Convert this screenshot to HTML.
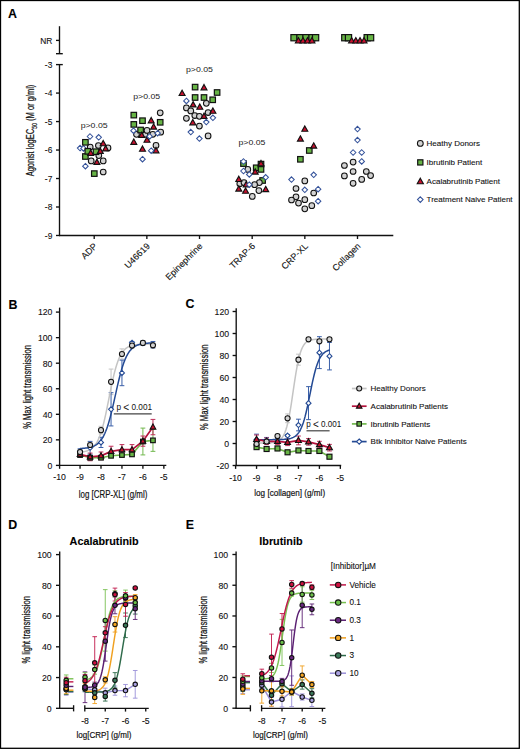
<!DOCTYPE html>
<html><head><meta charset="utf-8"><style>
html,body{margin:0;padding:0;background:#fff;}
svg{display:block;}
</style></head><body>
<svg width="520" height="749" viewBox="0 0 520 749" font-family='"Liberation Sans", sans-serif'><rect x="0" y="0" width="520" height="749" fill="#fff"/>
<text x="8.00" y="14.30" font-size="12.4" text-anchor="start" font-weight="bold" fill="#000" dominant-baseline="central" stroke="#000" stroke-width="0.1" >A</text>
<text x="8.60" y="304.70" font-size="12.4" text-anchor="start" font-weight="bold" fill="#000" dominant-baseline="central" stroke="#000" stroke-width="0.1" >B</text>
<text x="185.60" y="304.20" font-size="12.4" text-anchor="start" font-weight="bold" fill="#000" dominant-baseline="central" stroke="#000" stroke-width="0.1" >C</text>
<text x="8.20" y="524.50" font-size="12.4" text-anchor="start" font-weight="bold" fill="#000" dominant-baseline="central" stroke="#000" stroke-width="0.1" >D</text>
<text x="185.80" y="524.70" font-size="12.4" text-anchor="start" font-weight="bold" fill="#000" dominant-baseline="central" stroke="#000" stroke-width="0.1" >E</text>
<line x1="59.50" y1="26.20" x2="59.50" y2="53.70" stroke="#111" stroke-width="1.35" />
<line x1="56.00" y1="53.70" x2="62.80" y2="53.70" stroke="#111" stroke-width="1.35" />
<line x1="56.00" y1="40.40" x2="59.50" y2="40.40" stroke="#111" stroke-width="1.35" />
<line x1="56.00" y1="64.60" x2="62.80" y2="64.60" stroke="#111" stroke-width="1.35" />
<line x1="59.50" y1="64.60" x2="59.50" y2="236.10" stroke="#111" stroke-width="1.35" />
<line x1="56.00" y1="93.08" x2="59.50" y2="93.08" stroke="#111" stroke-width="1.35" />
<line x1="56.00" y1="121.56" x2="59.50" y2="121.56" stroke="#111" stroke-width="1.35" />
<line x1="56.00" y1="150.04" x2="59.50" y2="150.04" stroke="#111" stroke-width="1.35" />
<line x1="56.00" y1="178.52" x2="59.50" y2="178.52" stroke="#111" stroke-width="1.35" />
<line x1="56.00" y1="207.00" x2="59.50" y2="207.00" stroke="#111" stroke-width="1.35" />
<line x1="56.00" y1="235.48" x2="59.50" y2="235.48" stroke="#111" stroke-width="1.35" />
<text x="52.30" y="40.60" font-size="8.4" text-anchor="end" font-weight="normal" fill="#111" dominant-baseline="central" stroke="#111" stroke-width="0.1" >NR</text>
<text x="52.30" y="64.90" font-size="8.4" text-anchor="end" font-weight="normal" fill="#111" dominant-baseline="central" stroke="#111" stroke-width="0.1" >-3</text>
<text x="52.30" y="93.38" font-size="8.4" text-anchor="end" font-weight="normal" fill="#111" dominant-baseline="central" stroke="#111" stroke-width="0.1" >-4</text>
<text x="52.30" y="121.86" font-size="8.4" text-anchor="end" font-weight="normal" fill="#111" dominant-baseline="central" stroke="#111" stroke-width="0.1" >-5</text>
<text x="52.30" y="150.34" font-size="8.4" text-anchor="end" font-weight="normal" fill="#111" dominant-baseline="central" stroke="#111" stroke-width="0.1" >-6</text>
<text x="52.30" y="178.82" font-size="8.4" text-anchor="end" font-weight="normal" fill="#111" dominant-baseline="central" stroke="#111" stroke-width="0.1" >-7</text>
<text x="52.30" y="207.30" font-size="8.4" text-anchor="end" font-weight="normal" fill="#111" dominant-baseline="central" stroke="#111" stroke-width="0.1" >-8</text>
<text x="52.30" y="235.78" font-size="8.4" text-anchor="end" font-weight="normal" fill="#111" dominant-baseline="central" stroke="#111" stroke-width="0.1" >-9</text>
<line x1="58.90" y1="235.50" x2="393.30" y2="235.50" stroke="#111" stroke-width="1.35" />
<line x1="94.20" y1="235.50" x2="94.20" y2="239.00" stroke="#111" stroke-width="1.35" />
<text x="0" y="0" font-size="9.0" text-anchor="end" fill="#111" stroke="#111" stroke-width="0.12" transform="translate(97.80,246.70) rotate(-45)">ADP</text>
<line x1="146.86" y1="235.50" x2="146.86" y2="239.00" stroke="#111" stroke-width="1.35" />
<text x="0" y="0" font-size="9.0" text-anchor="end" fill="#111" stroke="#111" stroke-width="0.12" transform="translate(150.46,246.70) rotate(-45)">U46619</text>
<line x1="199.52" y1="235.50" x2="199.52" y2="239.00" stroke="#111" stroke-width="1.35" />
<text x="0" y="0" font-size="9.0" text-anchor="end" fill="#111" stroke="#111" stroke-width="0.12" transform="translate(203.12,246.70) rotate(-45)">Epinephrine</text>
<line x1="252.18" y1="235.50" x2="252.18" y2="239.00" stroke="#111" stroke-width="1.35" />
<text x="0" y="0" font-size="9.0" text-anchor="end" fill="#111" stroke="#111" stroke-width="0.12" transform="translate(255.78,246.70) rotate(-45)">TRAP-6</text>
<line x1="304.84" y1="235.50" x2="304.84" y2="239.00" stroke="#111" stroke-width="1.35" />
<text x="0" y="0" font-size="9.0" text-anchor="end" fill="#111" stroke="#111" stroke-width="0.12" transform="translate(308.44,246.70) rotate(-45)">CRP-XL</text>
<line x1="357.50" y1="235.50" x2="357.50" y2="239.00" stroke="#111" stroke-width="1.35" />
<text x="0" y="0" font-size="9.0" text-anchor="end" fill="#111" stroke="#111" stroke-width="0.12" transform="translate(361.10,246.70) rotate(-45)">Collagen</text>
<text x="0" y="0" font-size="10.6" text-anchor="middle" fill="#111" stroke="#111" stroke-width="0.22" transform="translate(34.4,130.5) rotate(-90)" textLength="91.6" lengthAdjust="spacingAndGlyphs">Agonist logEC<tspan font-size="7.4" dy="2.2">50</tspan><tspan dy="-2.2"> (M or g/ml)</tspan></text>
<text x="94.15" y="125.10" font-size="8.0" text-anchor="middle" font-weight="normal" fill="#1a1a1a" dominant-baseline="central" textLength="27" lengthAdjust="spacingAndGlyphs" >p&gt;0.05</text>
<text x="146.70" y="96.40" font-size="8.0" text-anchor="middle" font-weight="normal" fill="#1a1a1a" dominant-baseline="central" textLength="27" lengthAdjust="spacingAndGlyphs" >p&gt;0.05</text>
<text x="199.50" y="69.20" font-size="8.0" text-anchor="middle" font-weight="normal" fill="#1a1a1a" dominant-baseline="central" textLength="27" lengthAdjust="spacingAndGlyphs" >p&gt;0.05</text>
<text x="252.00" y="142.20" font-size="8.0" text-anchor="middle" font-weight="normal" fill="#1a1a1a" dominant-baseline="central" textLength="27" lengthAdjust="spacingAndGlyphs" >p&gt;0.05</text>
<polygon points="90.00,133.75 92.75,136.50 90.00,139.25 87.25,136.50" fill="#fff" stroke="#34529a" stroke-width="1.05"/>
<polygon points="98.70,134.55 101.45,137.30 98.70,140.05 95.95,137.30" fill="#fff" stroke="#34529a" stroke-width="1.05"/>
<polygon points="80.10,145.35 82.85,148.10 80.10,150.85 77.35,148.10" fill="#fff" stroke="#34529a" stroke-width="1.05"/>
<polygon points="83.50,145.65 86.25,148.40 83.50,151.15 80.75,148.40" fill="#fff" stroke="#34529a" stroke-width="1.05"/>
<polygon points="85.40,163.45 88.15,166.20 85.40,168.95 82.65,166.20" fill="#fff" stroke="#34529a" stroke-width="1.05"/>
<circle cx="90.20" cy="147.00" r="2.85" fill="#d2d2d2" stroke="#111" stroke-width="1.05"/>
<circle cx="98.40" cy="145.50" r="2.85" fill="#d2d2d2" stroke="#111" stroke-width="1.05"/>
<circle cx="108.00" cy="147.90" r="2.85" fill="#d2d2d2" stroke="#111" stroke-width="1.05"/>
<circle cx="98.80" cy="155.60" r="2.85" fill="#d2d2d2" stroke="#111" stroke-width="1.05"/>
<circle cx="91.20" cy="160.90" r="2.85" fill="#d2d2d2" stroke="#111" stroke-width="1.05"/>
<circle cx="103.20" cy="160.90" r="2.85" fill="#d2d2d2" stroke="#111" stroke-width="1.05"/>
<circle cx="103.20" cy="172.00" r="2.85" fill="#d2d2d2" stroke="#111" stroke-width="1.05"/>
<rect x="82.65" y="139.55" width="5.5" height="5.5" fill="#67b445" stroke="#111" stroke-width="1.2"/>
<rect x="82.65" y="153.75" width="5.5" height="5.5" fill="#67b445" stroke="#111" stroke-width="1.2"/>
<rect x="91.55" y="170.85" width="5.5" height="5.5" fill="#67b445" stroke="#111" stroke-width="1.2"/>
<rect x="85.05" y="148.55" width="5.5" height="5.5" fill="#67b445" stroke="#111" stroke-width="1.2"/>
<rect x="93.25" y="148.95" width="5.5" height="5.5" fill="#67b445" stroke="#111" stroke-width="1.2"/>
<polygon points="103.20,140.41 106.15,145.72 100.25,145.72" fill="#c8102e" stroke="#111" stroke-width="1.15" stroke-linejoin="miter"/>
<polygon points="105.60,145.61 108.55,150.92 102.65,150.92" fill="#c8102e" stroke="#111" stroke-width="1.15" stroke-linejoin="miter"/>
<polygon points="100.30,148.11 103.25,153.42 97.35,153.42" fill="#c8102e" stroke="#111" stroke-width="1.15" stroke-linejoin="miter"/>
<polygon points="90.70,150.01 93.65,155.32 87.75,155.32" fill="#c8102e" stroke="#111" stroke-width="1.15" stroke-linejoin="miter"/>
<polygon points="96.90,159.11 99.85,164.42 93.95,164.42" fill="#c8102e" stroke="#111" stroke-width="1.15" stroke-linejoin="miter"/>
<circle cx="160.20" cy="112.80" r="2.85" fill="#d2d2d2" stroke="#111" stroke-width="1.05"/>
<circle cx="136.50" cy="134.30" r="2.85" fill="#d2d2d2" stroke="#111" stroke-width="1.05"/>
<circle cx="144.90" cy="134.30" r="2.85" fill="#d2d2d2" stroke="#111" stroke-width="1.05"/>
<circle cx="152.80" cy="134.30" r="2.85" fill="#d2d2d2" stroke="#111" stroke-width="1.05"/>
<circle cx="160.70" cy="132.20" r="2.85" fill="#d2d2d2" stroke="#111" stroke-width="1.05"/>
<circle cx="147.00" cy="130.40" r="2.85" fill="#d2d2d2" stroke="#111" stroke-width="1.05"/>
<circle cx="156.00" cy="145.40" r="2.85" fill="#d2d2d2" stroke="#111" stroke-width="1.05"/>
<rect x="131.05" y="112.35" width="5.5" height="5.5" fill="#67b445" stroke="#111" stroke-width="1.2"/>
<rect x="139.75" y="117.95" width="5.5" height="5.5" fill="#67b445" stroke="#111" stroke-width="1.2"/>
<rect x="131.05" y="121.65" width="5.5" height="5.5" fill="#67b445" stroke="#111" stroke-width="1.2"/>
<rect x="157.45" y="119.55" width="5.5" height="5.5" fill="#67b445" stroke="#111" stroke-width="1.2"/>
<rect x="137.85" y="127.25" width="5.5" height="5.5" fill="#67b445" stroke="#111" stroke-width="1.2"/>
<polygon points="151.20,117.51 154.15,122.82 148.25,122.82" fill="#c8102e" stroke="#111" stroke-width="1.15" stroke-linejoin="miter"/>
<polygon points="153.60,123.81 156.55,129.12 150.65,129.12" fill="#c8102e" stroke="#111" stroke-width="1.15" stroke-linejoin="miter"/>
<polygon points="141.70,132.11 144.65,137.42 138.75,137.42" fill="#c8102e" stroke="#111" stroke-width="1.15" stroke-linejoin="miter"/>
<polygon points="147.00,136.91 149.95,142.22 144.05,142.22" fill="#c8102e" stroke="#111" stroke-width="1.15" stroke-linejoin="miter"/>
<polygon points="133.80,139.01 136.75,144.32 130.85,144.32" fill="#c8102e" stroke="#111" stroke-width="1.15" stroke-linejoin="miter"/>
<polygon points="142.50,145.91 145.45,151.22 139.55,151.22" fill="#c8102e" stroke="#111" stroke-width="1.15" stroke-linejoin="miter"/>
<polygon points="156.00,147.51 158.95,152.82 153.05,152.82" fill="#c8102e" stroke="#111" stroke-width="1.15" stroke-linejoin="miter"/>
<polygon points="133.50,127.95 136.25,130.70 133.50,133.45 130.75,130.70" fill="#fff" stroke="#34529a" stroke-width="1.05"/>
<polygon points="149.60,133.65 152.35,136.40 149.60,139.15 146.85,136.40" fill="#fff" stroke="#34529a" stroke-width="1.05"/>
<polygon points="157.60,130.45 160.35,133.20 157.60,135.95 154.85,133.20" fill="#fff" stroke="#34529a" stroke-width="1.05"/>
<polygon points="151.20,147.95 153.95,150.70 151.20,153.45 148.45,150.70" fill="#fff" stroke="#34529a" stroke-width="1.05"/>
<polygon points="142.50,156.45 145.25,159.20 142.50,161.95 139.75,159.20" fill="#fff" stroke="#34529a" stroke-width="1.05"/>
<rect x="192.35" y="84.35" width="5.5" height="5.5" fill="#67b445" stroke="#111" stroke-width="1.2"/>
<rect x="214.35" y="89.75" width="5.5" height="5.5" fill="#67b445" stroke="#111" stroke-width="1.2"/>
<rect x="192.35" y="94.75" width="5.5" height="5.5" fill="#67b445" stroke="#111" stroke-width="1.2"/>
<rect x="201.25" y="94.75" width="5.5" height="5.5" fill="#67b445" stroke="#111" stroke-width="1.2"/>
<rect x="209.95" y="97.05" width="5.5" height="5.5" fill="#67b445" stroke="#111" stroke-width="1.2"/>
<circle cx="206.30" cy="103.30" r="2.85" fill="#d2d2d2" stroke="#111" stroke-width="1.05"/>
<circle cx="186.40" cy="107.90" r="2.85" fill="#d2d2d2" stroke="#111" stroke-width="1.05"/>
<circle cx="190.80" cy="110.90" r="2.85" fill="#d2d2d2" stroke="#111" stroke-width="1.05"/>
<circle cx="208.10" cy="112.50" r="2.85" fill="#d2d2d2" stroke="#111" stroke-width="1.05"/>
<circle cx="194.80" cy="115.50" r="2.85" fill="#d2d2d2" stroke="#111" stroke-width="1.05"/>
<circle cx="199.40" cy="116.30" r="2.85" fill="#d2d2d2" stroke="#111" stroke-width="1.05"/>
<circle cx="186.40" cy="118.30" r="2.85" fill="#d2d2d2" stroke="#111" stroke-width="1.05"/>
<circle cx="199.40" cy="126.10" r="2.85" fill="#d2d2d2" stroke="#111" stroke-width="1.05"/>
<circle cx="208.10" cy="135.90" r="2.85" fill="#d2d2d2" stroke="#111" stroke-width="1.05"/>
<polygon points="204.00,84.51 206.95,89.82 201.05,89.82" fill="#c8102e" stroke="#111" stroke-width="1.15" stroke-linejoin="miter"/>
<polygon points="182.10,90.21 185.05,95.52 179.15,95.52" fill="#c8102e" stroke="#111" stroke-width="1.15" stroke-linejoin="miter"/>
<polygon points="193.10,101.61 196.05,106.92 190.15,106.92" fill="#c8102e" stroke="#111" stroke-width="1.15" stroke-linejoin="miter"/>
<polygon points="199.80,103.91 202.75,109.22 196.85,109.22" fill="#c8102e" stroke="#111" stroke-width="1.15" stroke-linejoin="miter"/>
<polygon points="212.90,107.91 215.85,113.22 209.95,113.22" fill="#c8102e" stroke="#111" stroke-width="1.15" stroke-linejoin="miter"/>
<polygon points="204.00,113.11 206.95,118.42 201.05,118.42" fill="#c8102e" stroke="#111" stroke-width="1.15" stroke-linejoin="miter"/>
<polygon points="192.80,119.51 195.75,124.82 189.85,124.82" fill="#c8102e" stroke="#111" stroke-width="1.15" stroke-linejoin="miter"/>
<polygon points="186.40,98.15 189.15,100.90 186.40,103.65 183.65,100.90" fill="#fff" stroke="#34529a" stroke-width="1.05"/>
<polygon points="212.90,115.05 215.65,117.80 212.90,120.55 210.15,117.80" fill="#fff" stroke="#34529a" stroke-width="1.05"/>
<polygon points="206.30,119.35 209.05,122.10 206.30,124.85 203.55,122.10" fill="#fff" stroke="#34529a" stroke-width="1.05"/>
<polygon points="190.80,129.35 193.55,132.10 190.80,134.85 188.05,132.10" fill="#fff" stroke="#34529a" stroke-width="1.05"/>
<polygon points="199.40,135.85 202.15,138.60 199.40,141.35 196.65,138.60" fill="#fff" stroke="#34529a" stroke-width="1.05"/>
<rect x="240.75" y="160.85" width="5.5" height="5.5" fill="#67b445" stroke="#111" stroke-width="1.2"/>
<rect x="253.45" y="165.05" width="5.5" height="5.5" fill="#67b445" stroke="#111" stroke-width="1.2"/>
<rect x="258.25" y="161.35" width="5.5" height="5.5" fill="#67b445" stroke="#111" stroke-width="1.2"/>
<rect x="258.25" y="166.65" width="5.5" height="5.5" fill="#67b445" stroke="#111" stroke-width="1.2"/>
<rect x="259.85" y="177.75" width="5.5" height="5.5" fill="#67b445" stroke="#111" stroke-width="1.2"/>
<circle cx="247.80" cy="169.40" r="2.85" fill="#d2d2d2" stroke="#111" stroke-width="1.05"/>
<circle cx="239.80" cy="183.70" r="2.85" fill="#d2d2d2" stroke="#111" stroke-width="1.05"/>
<circle cx="244.00" cy="182.60" r="2.85" fill="#d2d2d2" stroke="#111" stroke-width="1.05"/>
<circle cx="259.40" cy="182.60" r="2.85" fill="#d2d2d2" stroke="#111" stroke-width="1.05"/>
<circle cx="254.60" cy="184.70" r="2.85" fill="#d2d2d2" stroke="#111" stroke-width="1.05"/>
<circle cx="258.90" cy="190.60" r="2.85" fill="#d2d2d2" stroke="#111" stroke-width="1.05"/>
<circle cx="252.30" cy="196.40" r="2.85" fill="#d2d2d2" stroke="#111" stroke-width="1.05"/>
<polygon points="261.00,160.41 263.95,165.72 258.05,165.72" fill="#c8102e" stroke="#111" stroke-width="1.15" stroke-linejoin="miter"/>
<polygon points="255.20,168.81 258.15,174.12 252.25,174.12" fill="#c8102e" stroke="#111" stroke-width="1.15" stroke-linejoin="miter"/>
<polygon points="238.80,176.21 241.75,181.52 235.85,181.52" fill="#c8102e" stroke="#111" stroke-width="1.15" stroke-linejoin="miter"/>
<polygon points="246.20,181.51 249.15,186.82 243.25,186.82" fill="#c8102e" stroke="#111" stroke-width="1.15" stroke-linejoin="miter"/>
<polygon points="238.80,185.81 241.75,191.12 235.85,191.12" fill="#c8102e" stroke="#111" stroke-width="1.15" stroke-linejoin="miter"/>
<polygon points="245.60,187.91 248.55,193.22 242.65,193.22" fill="#c8102e" stroke="#111" stroke-width="1.15" stroke-linejoin="miter"/>
<polygon points="265.70,186.31 268.65,191.62 262.75,191.62" fill="#c8102e" stroke="#111" stroke-width="1.15" stroke-linejoin="miter"/>
<polygon points="243.50,158.75 246.25,161.50 243.50,164.25 240.75,161.50" fill="#fff" stroke="#34529a" stroke-width="1.05"/>
<polygon points="243.50,168.25 246.25,171.00 243.50,173.75 240.75,171.00" fill="#fff" stroke="#34529a" stroke-width="1.05"/>
<polygon points="249.30,171.65 252.05,174.40 249.30,177.15 246.55,174.40" fill="#fff" stroke="#34529a" stroke-width="1.05"/>
<polygon points="265.70,174.55 268.45,177.30 265.70,180.05 262.95,177.30" fill="#fff" stroke="#34529a" stroke-width="1.05"/>
<polygon points="249.30,181.95 252.05,184.70 249.30,187.45 246.55,184.70" fill="#fff" stroke="#34529a" stroke-width="1.05"/>
<circle cx="304.80" cy="180.90" r="2.85" fill="#d2d2d2" stroke="#111" stroke-width="1.05"/>
<circle cx="296.00" cy="188.50" r="2.85" fill="#d2d2d2" stroke="#111" stroke-width="1.05"/>
<circle cx="313.70" cy="193.00" r="2.85" fill="#d2d2d2" stroke="#111" stroke-width="1.05"/>
<circle cx="296.00" cy="196.80" r="2.85" fill="#d2d2d2" stroke="#111" stroke-width="1.05"/>
<circle cx="291.50" cy="200.00" r="2.85" fill="#d2d2d2" stroke="#111" stroke-width="1.05"/>
<circle cx="304.80" cy="199.70" r="2.85" fill="#d2d2d2" stroke="#111" stroke-width="1.05"/>
<circle cx="298.50" cy="203.10" r="2.85" fill="#d2d2d2" stroke="#111" stroke-width="1.05"/>
<circle cx="311.80" cy="205.70" r="2.85" fill="#d2d2d2" stroke="#111" stroke-width="1.05"/>
<circle cx="304.80" cy="208.80" r="2.85" fill="#d2d2d2" stroke="#111" stroke-width="1.05"/>
<polygon points="313.70,172.05 316.45,174.80 313.70,177.55 310.95,174.80" fill="#fff" stroke="#34529a" stroke-width="1.05"/>
<polygon points="291.50,176.85 294.25,179.60 291.50,182.35 288.75,179.60" fill="#fff" stroke="#34529a" stroke-width="1.05"/>
<polygon points="304.80,187.05 307.55,189.80 304.80,192.55 302.05,189.80" fill="#fff" stroke="#34529a" stroke-width="1.05"/>
<polygon points="318.10,186.45 320.85,189.20 318.10,191.95 315.35,189.20" fill="#fff" stroke="#34529a" stroke-width="1.05"/>
<polygon points="318.10,198.45 320.85,201.20 318.10,203.95 315.35,201.20" fill="#fff" stroke="#34529a" stroke-width="1.05"/>
<rect x="306.55" y="147.75" width="5.5" height="5.5" fill="#67b445" stroke="#111" stroke-width="1.2"/>
<rect x="297.65" y="156.55" width="5.5" height="5.5" fill="#67b445" stroke="#111" stroke-width="1.2"/>
<polygon points="304.80,125.91 307.75,131.22 301.85,131.22" fill="#c8102e" stroke="#111" stroke-width="1.15" stroke-linejoin="miter"/>
<polygon points="300.40,135.81 303.35,141.12 297.45,141.12" fill="#c8102e" stroke="#111" stroke-width="1.15" stroke-linejoin="miter"/>
<polygon points="313.70,142.81 316.65,148.12 310.75,148.12" fill="#c8102e" stroke="#111" stroke-width="1.15" stroke-linejoin="miter"/>
<circle cx="353.10" cy="162.10" r="2.85" fill="#d2d2d2" stroke="#111" stroke-width="1.05"/>
<circle cx="344.40" cy="165.50" r="2.85" fill="#d2d2d2" stroke="#111" stroke-width="1.05"/>
<circle cx="353.10" cy="171.50" r="2.85" fill="#d2d2d2" stroke="#111" stroke-width="1.05"/>
<circle cx="366.30" cy="171.50" r="2.85" fill="#d2d2d2" stroke="#111" stroke-width="1.05"/>
<circle cx="370.60" cy="175.60" r="2.85" fill="#d2d2d2" stroke="#111" stroke-width="1.05"/>
<circle cx="344.40" cy="175.90" r="2.85" fill="#d2d2d2" stroke="#111" stroke-width="1.05"/>
<circle cx="361.70" cy="179.40" r="2.85" fill="#d2d2d2" stroke="#111" stroke-width="1.05"/>
<circle cx="353.10" cy="183.30" r="2.85" fill="#d2d2d2" stroke="#111" stroke-width="1.05"/>
<polygon points="357.50,126.35 360.25,129.10 357.50,131.85 354.75,129.10" fill="#fff" stroke="#34529a" stroke-width="1.05"/>
<polygon points="357.50,137.35 360.25,140.10 357.50,142.85 354.75,140.10" fill="#fff" stroke="#34529a" stroke-width="1.05"/>
<polygon points="353.10,149.75 355.85,152.50 353.10,155.25 350.35,152.50" fill="#fff" stroke="#34529a" stroke-width="1.05"/>
<polygon points="361.70,149.75 364.45,152.50 361.70,155.25 358.95,152.50" fill="#fff" stroke="#34529a" stroke-width="1.05"/>
<polygon points="361.70,158.65 364.45,161.40 361.70,164.15 358.95,161.40" fill="#fff" stroke="#34529a" stroke-width="1.05"/>
<rect x="290.90" y="34.60" width="6.2" height="6.2" fill="#67b445" stroke="#111" stroke-width="1.2"/>
<rect x="296.90" y="34.60" width="6.2" height="6.2" fill="#67b445" stroke="#111" stroke-width="1.2"/>
<rect x="302.90" y="34.60" width="6.2" height="6.2" fill="#67b445" stroke="#111" stroke-width="1.2"/>
<rect x="308.90" y="34.60" width="6.2" height="6.2" fill="#67b445" stroke="#111" stroke-width="1.2"/>
<rect x="312.50" y="34.60" width="6.2" height="6.2" fill="#67b445" stroke="#111" stroke-width="1.2"/>
<polygon points="298.40,37.56 301.40,42.96 295.40,42.96" fill="#c8102e" stroke="#111" stroke-width="1.15" stroke-linejoin="miter"/>
<polygon points="303.00,37.56 306.00,42.96 300.00,42.96" fill="#c8102e" stroke="#111" stroke-width="1.15" stroke-linejoin="miter"/>
<polygon points="307.50,37.56 310.50,42.96 304.50,42.96" fill="#c8102e" stroke="#111" stroke-width="1.15" stroke-linejoin="miter"/>
<polygon points="311.90,37.56 314.90,42.96 308.90,42.96" fill="#c8102e" stroke="#111" stroke-width="1.15" stroke-linejoin="miter"/>
<rect x="341.70" y="34.60" width="6.2" height="6.2" fill="#67b445" stroke="#111" stroke-width="1.2"/>
<rect x="345.40" y="34.60" width="6.2" height="6.2" fill="#67b445" stroke="#111" stroke-width="1.2"/>
<rect x="364.10" y="34.60" width="6.2" height="6.2" fill="#67b445" stroke="#111" stroke-width="1.2"/>
<rect x="367.50" y="34.60" width="6.2" height="6.2" fill="#67b445" stroke="#111" stroke-width="1.2"/>
<polygon points="351.60,37.56 354.60,42.96 348.60,42.96" fill="#c8102e" stroke="#111" stroke-width="1.15" stroke-linejoin="miter"/>
<polygon points="355.80,37.56 358.80,42.96 352.80,42.96" fill="#c8102e" stroke="#111" stroke-width="1.15" stroke-linejoin="miter"/>
<polygon points="360.00,37.56 363.00,42.96 357.00,42.96" fill="#c8102e" stroke="#111" stroke-width="1.15" stroke-linejoin="miter"/>
<polygon points="364.00,37.56 367.00,42.96 361.00,42.96" fill="#c8102e" stroke="#111" stroke-width="1.15" stroke-linejoin="miter"/>
<circle cx="420.30" cy="143.40" r="2.9" fill="#d2d2d2" stroke="#111" stroke-width="1.05"/>
<rect x="417.70" y="159.80" width="5.2" height="5.2" fill="#67b445" stroke="#111" stroke-width="1.2"/>
<polygon points="420.30,178.21 423.35,183.70 417.25,183.70" fill="#c8102e" stroke="#111" stroke-width="1.15" stroke-linejoin="miter"/>
<polygon points="420.30,196.80 423.10,199.60 420.30,202.40 417.50,199.60" fill="#fff" stroke="#34529a" stroke-width="1.05"/>
<text x="426.60" y="143.70" font-size="8.0" text-anchor="start" font-weight="normal" fill="#111" dominant-baseline="central" stroke="#111" stroke-width="0.1" >Heathy Donors</text>
<text x="426.60" y="162.60" font-size="8.0" text-anchor="start" font-weight="normal" fill="#111" dominant-baseline="central" stroke="#111" stroke-width="0.1" >Ibrutinib Patient</text>
<text x="426.60" y="181.30" font-size="8.0" text-anchor="start" font-weight="normal" fill="#111" dominant-baseline="central" stroke="#111" stroke-width="0.1" >Acalabrutinib Patient</text>
<text x="426.60" y="199.70" font-size="8.0" text-anchor="start" font-weight="normal" fill="#111" dominant-baseline="central" stroke="#111" stroke-width="0.1" >Treatment Naive Patient</text>
<line x1="59.60" y1="307.60" x2="59.60" y2="466.00" stroke="#111" stroke-width="1.35" />
<line x1="55.90" y1="465.40" x2="59.60" y2="465.40" stroke="#111" stroke-width="1.35" />
<text x="52.40" y="465.70" font-size="8.7" text-anchor="end" font-weight="normal" fill="#111" dominant-baseline="central" stroke="#111" stroke-width="0.1" >0</text>
<line x1="55.90" y1="439.85" x2="59.60" y2="439.85" stroke="#111" stroke-width="1.35" />
<text x="52.40" y="440.15" font-size="8.7" text-anchor="end" font-weight="normal" fill="#111" dominant-baseline="central" stroke="#111" stroke-width="0.1" >20</text>
<line x1="55.90" y1="414.30" x2="59.60" y2="414.30" stroke="#111" stroke-width="1.35" />
<text x="52.40" y="414.60" font-size="8.7" text-anchor="end" font-weight="normal" fill="#111" dominant-baseline="central" stroke="#111" stroke-width="0.1" >40</text>
<line x1="55.90" y1="388.75" x2="59.60" y2="388.75" stroke="#111" stroke-width="1.35" />
<text x="52.40" y="389.05" font-size="8.7" text-anchor="end" font-weight="normal" fill="#111" dominant-baseline="central" stroke="#111" stroke-width="0.1" >60</text>
<line x1="55.90" y1="363.20" x2="59.60" y2="363.20" stroke="#111" stroke-width="1.35" />
<text x="52.40" y="363.50" font-size="8.7" text-anchor="end" font-weight="normal" fill="#111" dominant-baseline="central" stroke="#111" stroke-width="0.1" >80</text>
<line x1="55.90" y1="337.65" x2="59.60" y2="337.65" stroke="#111" stroke-width="1.35" />
<text x="52.40" y="337.95" font-size="8.7" text-anchor="end" font-weight="normal" fill="#111" dominant-baseline="central" stroke="#111" stroke-width="0.1" >100</text>
<line x1="55.90" y1="312.10" x2="59.60" y2="312.10" stroke="#111" stroke-width="1.35" />
<text x="52.40" y="312.40" font-size="8.7" text-anchor="end" font-weight="normal" fill="#111" dominant-baseline="central" stroke="#111" stroke-width="0.1" >120</text>
<line x1="59.00" y1="465.40" x2="166.30" y2="465.40" stroke="#111" stroke-width="1.35" />
<line x1="59.60" y1="465.40" x2="59.60" y2="468.80" stroke="#111" stroke-width="1.35" />
<text x="59.60" y="477.40" font-size="8.7" text-anchor="middle" font-weight="normal" fill="#111" dominant-baseline="central" stroke="#111" stroke-width="0.1" >-10</text>
<line x1="80.05" y1="465.40" x2="80.05" y2="468.80" stroke="#111" stroke-width="1.35" />
<text x="80.05" y="477.40" font-size="8.7" text-anchor="middle" font-weight="normal" fill="#111" dominant-baseline="central" stroke="#111" stroke-width="0.1" >-9</text>
<line x1="101.00" y1="465.40" x2="101.00" y2="468.80" stroke="#111" stroke-width="1.35" />
<text x="101.00" y="477.40" font-size="8.7" text-anchor="middle" font-weight="normal" fill="#111" dominant-baseline="central" stroke="#111" stroke-width="0.1" >-8</text>
<line x1="121.95" y1="465.40" x2="121.95" y2="468.80" stroke="#111" stroke-width="1.35" />
<text x="121.95" y="477.40" font-size="8.7" text-anchor="middle" font-weight="normal" fill="#111" dominant-baseline="central" stroke="#111" stroke-width="0.1" >-7</text>
<line x1="142.90" y1="465.40" x2="142.90" y2="468.80" stroke="#111" stroke-width="1.35" />
<text x="142.90" y="477.40" font-size="8.7" text-anchor="middle" font-weight="normal" fill="#111" dominant-baseline="central" stroke="#111" stroke-width="0.1" >-6</text>
<line x1="163.85" y1="465.40" x2="163.85" y2="468.80" stroke="#111" stroke-width="1.35" />
<text x="163.85" y="477.40" font-size="8.7" text-anchor="middle" font-weight="normal" fill="#111" dominant-baseline="central" stroke="#111" stroke-width="0.1" >-5</text>
<text x="0" y="0" font-size="10.6" text-anchor="middle" fill="#111" stroke="#111" stroke-width="0.25" transform="translate(30.8,387.0) rotate(-90)" textLength="83.7" lengthAdjust="spacingAndGlyphs">% Max light transmission</text>
<text x="113.10" y="498.00" font-size="10.0" text-anchor="middle" font-weight="normal" fill="#111" dominant-baseline="auto" textLength="68.5" lengthAdjust="spacingAndGlyphs" stroke="#111" stroke-width="0.2" >log [CRP-XL] (g/ml)</text>
<line x1="80.05" y1="449.43" x2="80.05" y2="454.54" stroke="#c4c4c4" stroke-width="1.0" />
<line x1="77.65" y1="449.43" x2="82.45" y2="449.43" stroke="#c4c4c4" stroke-width="1.0" />
<line x1="77.65" y1="454.54" x2="82.45" y2="454.54" stroke="#c4c4c4" stroke-width="1.0" />
<line x1="90.11" y1="442.40" x2="90.11" y2="447.51" stroke="#c4c4c4" stroke-width="1.0" />
<line x1="87.71" y1="442.40" x2="92.51" y2="442.40" stroke="#c4c4c4" stroke-width="1.0" />
<line x1="87.71" y1="447.51" x2="92.51" y2="447.51" stroke="#c4c4c4" stroke-width="1.0" />
<line x1="101.00" y1="426.31" x2="101.00" y2="433.97" stroke="#c4c4c4" stroke-width="1.0" />
<line x1="98.60" y1="426.31" x2="103.40" y2="426.31" stroke="#c4c4c4" stroke-width="1.0" />
<line x1="98.60" y1="433.97" x2="103.40" y2="433.97" stroke="#c4c4c4" stroke-width="1.0" />
<line x1="111.06" y1="369.08" x2="111.06" y2="394.63" stroke="#c4c4c4" stroke-width="1.0" />
<line x1="108.66" y1="369.08" x2="113.46" y2="369.08" stroke="#c4c4c4" stroke-width="1.0" />
<line x1="108.66" y1="394.63" x2="113.46" y2="394.63" stroke="#c4c4c4" stroke-width="1.0" />
<line x1="121.95" y1="348.89" x2="121.95" y2="359.11" stroke="#c4c4c4" stroke-width="1.0" />
<line x1="119.55" y1="348.89" x2="124.35" y2="348.89" stroke="#c4c4c4" stroke-width="1.0" />
<line x1="119.55" y1="359.11" x2="124.35" y2="359.11" stroke="#c4c4c4" stroke-width="1.0" />
<line x1="132.01" y1="343.02" x2="132.01" y2="348.13" stroke="#c4c4c4" stroke-width="1.0" />
<line x1="129.61" y1="343.02" x2="134.41" y2="343.02" stroke="#c4c4c4" stroke-width="1.0" />
<line x1="129.61" y1="348.13" x2="134.41" y2="348.13" stroke="#c4c4c4" stroke-width="1.0" />
<line x1="142.90" y1="340.97" x2="142.90" y2="344.80" stroke="#c4c4c4" stroke-width="1.0" />
<line x1="140.50" y1="340.97" x2="145.30" y2="340.97" stroke="#c4c4c4" stroke-width="1.0" />
<line x1="140.50" y1="344.80" x2="145.30" y2="344.80" stroke="#c4c4c4" stroke-width="1.0" />
<line x1="152.96" y1="342.76" x2="152.96" y2="347.87" stroke="#c4c4c4" stroke-width="1.0" />
<line x1="150.56" y1="342.76" x2="155.36" y2="342.76" stroke="#c4c4c4" stroke-width="1.0" />
<line x1="150.56" y1="347.87" x2="155.36" y2="347.87" stroke="#c4c4c4" stroke-width="1.0" />
<line x1="80.05" y1="448.79" x2="80.05" y2="453.90" stroke="#3a5fa8" stroke-width="1.0" />
<line x1="77.65" y1="448.79" x2="82.45" y2="448.79" stroke="#3a5fa8" stroke-width="1.0" />
<line x1="77.65" y1="453.90" x2="82.45" y2="453.90" stroke="#3a5fa8" stroke-width="1.0" />
<line x1="90.11" y1="441.38" x2="90.11" y2="454.16" stroke="#3a5fa8" stroke-width="1.0" />
<line x1="87.71" y1="441.38" x2="92.51" y2="441.38" stroke="#3a5fa8" stroke-width="1.0" />
<line x1="87.71" y1="454.16" x2="92.51" y2="454.16" stroke="#3a5fa8" stroke-width="1.0" />
<line x1="101.00" y1="437.29" x2="101.00" y2="447.51" stroke="#3a5fa8" stroke-width="1.0" />
<line x1="98.60" y1="437.29" x2="103.40" y2="437.29" stroke="#3a5fa8" stroke-width="1.0" />
<line x1="98.60" y1="447.51" x2="103.40" y2="447.51" stroke="#3a5fa8" stroke-width="1.0" />
<line x1="111.06" y1="392.71" x2="111.06" y2="425.93" stroke="#3a5fa8" stroke-width="1.0" />
<line x1="108.66" y1="392.71" x2="113.46" y2="392.71" stroke="#3a5fa8" stroke-width="1.0" />
<line x1="108.66" y1="425.93" x2="113.46" y2="425.93" stroke="#3a5fa8" stroke-width="1.0" />
<line x1="121.95" y1="360.13" x2="121.95" y2="385.68" stroke="#3a5fa8" stroke-width="1.0" />
<line x1="119.55" y1="360.13" x2="124.35" y2="360.13" stroke="#3a5fa8" stroke-width="1.0" />
<line x1="119.55" y1="385.68" x2="124.35" y2="385.68" stroke="#3a5fa8" stroke-width="1.0" />
<line x1="132.01" y1="341.48" x2="132.01" y2="344.04" stroke="#3a5fa8" stroke-width="1.0" />
<line x1="129.61" y1="341.48" x2="134.41" y2="341.48" stroke="#3a5fa8" stroke-width="1.0" />
<line x1="129.61" y1="344.04" x2="134.41" y2="344.04" stroke="#3a5fa8" stroke-width="1.0" />
<line x1="142.90" y1="341.10" x2="142.90" y2="345.19" stroke="#3a5fa8" stroke-width="1.0" />
<line x1="140.50" y1="341.10" x2="145.30" y2="341.10" stroke="#3a5fa8" stroke-width="1.0" />
<line x1="140.50" y1="345.19" x2="145.30" y2="345.19" stroke="#3a5fa8" stroke-width="1.0" />
<line x1="152.96" y1="341.48" x2="152.96" y2="347.87" stroke="#3a5fa8" stroke-width="1.0" />
<line x1="150.56" y1="341.48" x2="155.36" y2="341.48" stroke="#3a5fa8" stroke-width="1.0" />
<line x1="150.56" y1="347.87" x2="155.36" y2="347.87" stroke="#3a5fa8" stroke-width="1.0" />
<line x1="80.05" y1="453.77" x2="80.05" y2="456.33" stroke="#72b84e" stroke-width="1.0" />
<line x1="77.65" y1="453.77" x2="82.45" y2="453.77" stroke="#72b84e" stroke-width="1.0" />
<line x1="77.65" y1="456.33" x2="82.45" y2="456.33" stroke="#72b84e" stroke-width="1.0" />
<line x1="90.11" y1="456.46" x2="90.11" y2="459.01" stroke="#72b84e" stroke-width="1.0" />
<line x1="87.71" y1="456.46" x2="92.51" y2="456.46" stroke="#72b84e" stroke-width="1.0" />
<line x1="87.71" y1="459.01" x2="92.51" y2="459.01" stroke="#72b84e" stroke-width="1.0" />
<line x1="101.00" y1="456.46" x2="101.00" y2="459.01" stroke="#72b84e" stroke-width="1.0" />
<line x1="98.60" y1="456.46" x2="103.40" y2="456.46" stroke="#72b84e" stroke-width="1.0" />
<line x1="98.60" y1="459.01" x2="103.40" y2="459.01" stroke="#72b84e" stroke-width="1.0" />
<line x1="111.06" y1="454.54" x2="111.06" y2="457.10" stroke="#72b84e" stroke-width="1.0" />
<line x1="108.66" y1="454.54" x2="113.46" y2="454.54" stroke="#72b84e" stroke-width="1.0" />
<line x1="108.66" y1="457.10" x2="113.46" y2="457.10" stroke="#72b84e" stroke-width="1.0" />
<line x1="121.95" y1="453.77" x2="121.95" y2="456.33" stroke="#72b84e" stroke-width="1.0" />
<line x1="119.55" y1="453.77" x2="124.35" y2="453.77" stroke="#72b84e" stroke-width="1.0" />
<line x1="119.55" y1="456.33" x2="124.35" y2="456.33" stroke="#72b84e" stroke-width="1.0" />
<line x1="132.01" y1="453.14" x2="132.01" y2="455.69" stroke="#72b84e" stroke-width="1.0" />
<line x1="129.61" y1="453.14" x2="134.41" y2="453.14" stroke="#72b84e" stroke-width="1.0" />
<line x1="129.61" y1="455.69" x2="134.41" y2="455.69" stroke="#72b84e" stroke-width="1.0" />
<line x1="142.90" y1="428.10" x2="142.90" y2="454.92" stroke="#72b84e" stroke-width="1.0" />
<line x1="140.50" y1="428.10" x2="145.30" y2="428.10" stroke="#72b84e" stroke-width="1.0" />
<line x1="140.50" y1="454.92" x2="145.30" y2="454.92" stroke="#72b84e" stroke-width="1.0" />
<line x1="152.96" y1="429.37" x2="152.96" y2="451.35" stroke="#72b84e" stroke-width="1.0" />
<line x1="150.56" y1="429.37" x2="155.36" y2="429.37" stroke="#72b84e" stroke-width="1.0" />
<line x1="150.56" y1="451.35" x2="155.36" y2="451.35" stroke="#72b84e" stroke-width="1.0" />
<line x1="80.05" y1="451.86" x2="80.05" y2="456.97" stroke="#c0305a" stroke-width="1.0" />
<line x1="77.65" y1="451.86" x2="82.45" y2="451.86" stroke="#c0305a" stroke-width="1.0" />
<line x1="77.65" y1="456.97" x2="82.45" y2="456.97" stroke="#c0305a" stroke-width="1.0" />
<line x1="90.11" y1="453.07" x2="90.11" y2="460.74" stroke="#c0305a" stroke-width="1.0" />
<line x1="87.71" y1="453.07" x2="92.51" y2="453.07" stroke="#c0305a" stroke-width="1.0" />
<line x1="87.71" y1="460.74" x2="92.51" y2="460.74" stroke="#c0305a" stroke-width="1.0" />
<line x1="101.00" y1="451.99" x2="101.00" y2="459.65" stroke="#c0305a" stroke-width="1.0" />
<line x1="98.60" y1="451.99" x2="103.40" y2="451.99" stroke="#c0305a" stroke-width="1.0" />
<line x1="98.60" y1="459.65" x2="103.40" y2="459.65" stroke="#c0305a" stroke-width="1.0" />
<line x1="111.06" y1="446.24" x2="111.06" y2="456.46" stroke="#c0305a" stroke-width="1.0" />
<line x1="108.66" y1="446.24" x2="113.46" y2="446.24" stroke="#c0305a" stroke-width="1.0" />
<line x1="108.66" y1="456.46" x2="113.46" y2="456.46" stroke="#c0305a" stroke-width="1.0" />
<line x1="121.95" y1="444.58" x2="121.95" y2="454.80" stroke="#c0305a" stroke-width="1.0" />
<line x1="119.55" y1="444.58" x2="124.35" y2="444.58" stroke="#c0305a" stroke-width="1.0" />
<line x1="119.55" y1="454.80" x2="124.35" y2="454.80" stroke="#c0305a" stroke-width="1.0" />
<line x1="132.01" y1="444.58" x2="132.01" y2="454.80" stroke="#c0305a" stroke-width="1.0" />
<line x1="129.61" y1="444.58" x2="134.41" y2="444.58" stroke="#c0305a" stroke-width="1.0" />
<line x1="129.61" y1="454.80" x2="134.41" y2="454.80" stroke="#c0305a" stroke-width="1.0" />
<line x1="142.90" y1="436.02" x2="142.90" y2="446.24" stroke="#c0305a" stroke-width="1.0" />
<line x1="140.50" y1="436.02" x2="145.30" y2="436.02" stroke="#c0305a" stroke-width="1.0" />
<line x1="140.50" y1="446.24" x2="145.30" y2="446.24" stroke="#c0305a" stroke-width="1.0" />
<line x1="152.96" y1="419.41" x2="152.96" y2="434.74" stroke="#c0305a" stroke-width="1.0" />
<line x1="150.56" y1="419.41" x2="155.36" y2="419.41" stroke="#c0305a" stroke-width="1.0" />
<line x1="150.56" y1="434.74" x2="155.36" y2="434.74" stroke="#c0305a" stroke-width="1.0" />
<path d="M80.05,452.14 L80.97,452.05 L81.88,451.94 L82.80,451.81 L83.72,451.66 L84.63,451.48 L85.55,451.27 L86.47,451.03 L87.38,450.73 L88.30,450.39 L89.22,449.98 L90.13,449.50 L91.05,448.93 L91.97,448.27 L92.88,447.50 L93.80,446.59 L94.71,445.54 L95.63,444.32 L96.55,442.90 L97.46,441.28 L98.38,439.41 L99.30,437.29 L100.21,434.90 L101.13,432.21 L102.05,429.22 L102.96,425.92 L103.88,422.33 L104.80,418.45 L105.71,414.31 L106.63,409.97 L107.55,405.46 L108.46,400.85 L109.38,396.21 L110.30,391.59 L111.21,387.07 L112.13,382.71 L113.05,378.56 L113.96,374.66 L114.88,371.04 L115.80,367.71 L116.71,364.70 L117.63,361.98 L118.55,359.56 L119.46,357.42 L120.38,355.54 L121.30,353.89 L122.21,352.46 L123.13,351.22 L124.04,350.16 L124.96,349.24 L125.88,348.45 L126.79,347.78 L127.71,347.21 L128.63,346.72 L129.54,346.31 L130.46,345.96 L131.38,345.66 L132.29,345.41 L133.21,345.19 L134.13,345.01 L135.04,344.86 L135.96,344.73 L136.88,344.62 L137.79,344.53 L138.71,344.45 L139.63,344.39 L140.54,344.33 L141.46,344.29 L142.38,344.25 L143.29,344.21 L144.21,344.19 L145.13,344.16 L146.04,344.14 L146.96,344.13 L147.88,344.11 L148.79,344.10 L149.71,344.09 L150.63,344.08 L151.54,344.08 L152.46,344.07 L153.38,344.06" fill="none" stroke="#c4c4c4" stroke-width="1.5"/>
<path d="M80.05,448.53 L80.97,448.48 L81.88,448.43 L82.80,448.37 L83.72,448.30 L84.63,448.22 L85.55,448.12 L86.47,448.01 L87.38,447.88 L88.30,447.73 L89.22,447.55 L90.13,447.34 L91.05,447.10 L91.97,446.82 L92.88,446.49 L93.80,446.12 L94.71,445.68 L95.63,445.17 L96.55,444.58 L97.46,443.90 L98.38,443.12 L99.30,442.22 L100.21,441.19 L101.13,440.01 L102.05,438.67 L102.96,437.15 L103.88,435.43 L104.80,433.49 L105.71,431.33 L106.63,428.93 L107.55,426.29 L108.46,423.40 L109.38,420.26 L110.30,416.89 L111.21,413.30 L112.13,409.53 L113.05,405.60 L113.96,401.55 L114.88,397.43 L115.80,393.29 L116.71,389.19 L117.63,385.16 L118.55,381.26 L119.46,377.51 L120.38,373.97 L121.30,370.64 L122.21,367.56 L123.13,364.71 L124.04,362.12 L124.96,359.77 L125.88,357.66 L126.79,355.77 L127.71,354.09 L128.63,352.60 L129.54,351.29 L130.46,350.15 L131.38,349.14 L132.29,348.27 L133.21,347.51 L134.13,346.85 L135.04,346.28 L135.96,345.78 L136.88,345.36 L137.79,344.99 L138.71,344.67 L139.63,344.40 L140.54,344.17 L141.46,343.97 L142.38,343.79 L143.29,343.64 L144.21,343.52 L145.13,343.41 L146.04,343.32 L146.96,343.24 L147.88,343.17 L148.79,343.11 L149.71,343.06 L150.63,343.02 L151.54,342.98 L152.46,342.95 L153.38,342.92" fill="none" stroke="#244a94" stroke-width="1.5"/>
<path d="M80.05,455.05 L90.11,457.73 L101.00,457.73 L111.06,455.82 L121.95,455.05 L132.01,454.41 L142.90,441.51 L152.96,440.36" fill="none" stroke="#72b84e" stroke-width="1.6"/>
<path d="M80.05,454.41 L90.11,456.90 L101.00,455.82 L111.06,451.35 L121.95,449.69 L132.01,449.69 L142.90,441.13 L152.96,427.07" fill="none" stroke="#b3123c" stroke-width="1.7"/>
<rect x="77.75" y="452.75" width="4.6" height="4.6" fill="#67b445" stroke="#111" stroke-width="1.15"/>
<rect x="87.81" y="455.43" width="4.6" height="4.6" fill="#67b445" stroke="#111" stroke-width="1.15"/>
<rect x="98.70" y="455.43" width="4.6" height="4.6" fill="#67b445" stroke="#111" stroke-width="1.15"/>
<rect x="108.76" y="453.52" width="4.6" height="4.6" fill="#67b445" stroke="#111" stroke-width="1.15"/>
<rect x="119.65" y="452.75" width="4.6" height="4.6" fill="#67b445" stroke="#111" stroke-width="1.15"/>
<rect x="129.71" y="452.11" width="4.6" height="4.6" fill="#67b445" stroke="#111" stroke-width="1.15"/>
<rect x="140.60" y="439.21" width="4.6" height="4.6" fill="#67b445" stroke="#111" stroke-width="1.15"/>
<rect x="150.66" y="438.06" width="4.6" height="4.6" fill="#67b445" stroke="#111" stroke-width="1.15"/>
<polygon points="80.05,448.85 82.55,451.35 80.05,453.85 77.55,451.35" fill="#fff" stroke="#244a94" stroke-width="1.1"/>
<polygon points="90.11,445.27 92.61,447.77 90.11,450.27 87.61,447.77" fill="#fff" stroke="#244a94" stroke-width="1.1"/>
<polygon points="101.00,439.90 103.50,442.40 101.00,444.90 98.50,442.40" fill="#fff" stroke="#244a94" stroke-width="1.1"/>
<polygon points="111.06,406.82 113.56,409.32 111.06,411.82 108.56,409.32" fill="#fff" stroke="#244a94" stroke-width="1.1"/>
<polygon points="121.95,370.41 124.45,372.91 121.95,375.41 119.45,372.91" fill="#fff" stroke="#244a94" stroke-width="1.1"/>
<polygon points="132.01,340.26 134.51,342.76 132.01,345.26 129.51,342.76" fill="#fff" stroke="#244a94" stroke-width="1.1"/>
<polygon points="142.90,340.64 145.40,343.14 142.90,345.64 140.40,343.14" fill="#fff" stroke="#244a94" stroke-width="1.1"/>
<polygon points="152.96,342.18 155.46,344.68 152.96,347.18 150.46,344.68" fill="#fff" stroke="#244a94" stroke-width="1.1"/>
<polygon points="80.05,451.39 82.85,456.43 77.25,456.43" fill="#c8102e" stroke="#111" stroke-width="1.15" stroke-linejoin="miter"/>
<polygon points="90.11,453.88 92.91,458.92 87.31,458.92" fill="#c8102e" stroke="#111" stroke-width="1.15" stroke-linejoin="miter"/>
<polygon points="101.00,452.79 103.80,457.83 98.20,457.83" fill="#c8102e" stroke="#111" stroke-width="1.15" stroke-linejoin="miter"/>
<polygon points="111.06,448.32 113.86,453.36 108.26,453.36" fill="#c8102e" stroke="#111" stroke-width="1.15" stroke-linejoin="miter"/>
<polygon points="121.95,446.66 124.75,451.70 119.15,451.70" fill="#c8102e" stroke="#111" stroke-width="1.15" stroke-linejoin="miter"/>
<polygon points="132.01,446.66 134.81,451.70 129.21,451.70" fill="#c8102e" stroke="#111" stroke-width="1.15" stroke-linejoin="miter"/>
<polygon points="142.90,438.10 145.70,443.14 140.10,443.14" fill="#c8102e" stroke="#111" stroke-width="1.15" stroke-linejoin="miter"/>
<polygon points="152.96,424.05 155.76,429.09 150.16,429.09" fill="#c8102e" stroke="#111" stroke-width="1.15" stroke-linejoin="miter"/>
<circle cx="80.05" cy="451.99" r="2.55" fill="#d2d2d2" stroke="#111" stroke-width="1.05"/>
<circle cx="90.11" cy="444.96" r="2.55" fill="#d2d2d2" stroke="#111" stroke-width="1.05"/>
<circle cx="101.00" cy="430.14" r="2.55" fill="#d2d2d2" stroke="#111" stroke-width="1.05"/>
<circle cx="111.06" cy="381.85" r="2.55" fill="#d2d2d2" stroke="#111" stroke-width="1.05"/>
<circle cx="121.95" cy="354.00" r="2.55" fill="#d2d2d2" stroke="#111" stroke-width="1.05"/>
<circle cx="132.01" cy="345.57" r="2.55" fill="#d2d2d2" stroke="#111" stroke-width="1.05"/>
<circle cx="142.90" cy="342.89" r="2.55" fill="#d2d2d2" stroke="#111" stroke-width="1.05"/>
<circle cx="152.96" cy="345.31" r="2.55" fill="#d2d2d2" stroke="#111" stroke-width="1.05"/>
<text x="134.30" y="406.60" font-size="8.6" text-anchor="middle" font-weight="normal" fill="#111" dominant-baseline="central" textLength="35.6" lengthAdjust="spacingAndGlyphs" stroke="#111" stroke-width="0.02" >p <tspan font-size="10.5">&lt;</tspan> 0.001</text>
<line x1="113.80" y1="413.80" x2="151.70" y2="413.80" stroke="#444" stroke-width="1.2" />
<line x1="236.20" y1="308.30" x2="236.20" y2="466.00" stroke="#111" stroke-width="1.35" />
<line x1="232.60" y1="465.50" x2="236.20" y2="465.50" stroke="#111" stroke-width="1.35" />
<text x="229.10" y="465.80" font-size="8.7" text-anchor="end" font-weight="normal" fill="#111" dominant-baseline="central" stroke="#111" stroke-width="0.1" >-20</text>
<line x1="232.60" y1="443.50" x2="236.20" y2="443.50" stroke="#111" stroke-width="1.35" />
<text x="229.10" y="443.80" font-size="8.7" text-anchor="end" font-weight="normal" fill="#111" dominant-baseline="central" stroke="#111" stroke-width="0.1" >0</text>
<line x1="232.60" y1="421.50" x2="236.20" y2="421.50" stroke="#111" stroke-width="1.35" />
<text x="229.10" y="421.80" font-size="8.7" text-anchor="end" font-weight="normal" fill="#111" dominant-baseline="central" stroke="#111" stroke-width="0.1" >20</text>
<line x1="232.60" y1="399.50" x2="236.20" y2="399.50" stroke="#111" stroke-width="1.35" />
<text x="229.10" y="399.80" font-size="8.7" text-anchor="end" font-weight="normal" fill="#111" dominant-baseline="central" stroke="#111" stroke-width="0.1" >40</text>
<line x1="232.60" y1="377.50" x2="236.20" y2="377.50" stroke="#111" stroke-width="1.35" />
<text x="229.10" y="377.80" font-size="8.7" text-anchor="end" font-weight="normal" fill="#111" dominant-baseline="central" stroke="#111" stroke-width="0.1" >60</text>
<line x1="232.60" y1="355.50" x2="236.20" y2="355.50" stroke="#111" stroke-width="1.35" />
<text x="229.10" y="355.80" font-size="8.7" text-anchor="end" font-weight="normal" fill="#111" dominant-baseline="central" stroke="#111" stroke-width="0.1" >80</text>
<line x1="232.60" y1="333.50" x2="236.20" y2="333.50" stroke="#111" stroke-width="1.35" />
<text x="229.10" y="333.80" font-size="8.7" text-anchor="end" font-weight="normal" fill="#111" dominant-baseline="central" stroke="#111" stroke-width="0.1" >100</text>
<line x1="232.60" y1="311.50" x2="236.20" y2="311.50" stroke="#111" stroke-width="1.35" />
<text x="229.10" y="311.80" font-size="8.7" text-anchor="end" font-weight="normal" fill="#111" dominant-baseline="central" stroke="#111" stroke-width="0.1" >120</text>
<line x1="235.60" y1="465.50" x2="341.20" y2="465.50" stroke="#111" stroke-width="1.35" />
<line x1="235.60" y1="465.50" x2="235.60" y2="468.90" stroke="#111" stroke-width="1.35" />
<text x="235.60" y="477.60" font-size="8.7" text-anchor="middle" font-weight="normal" fill="#111" dominant-baseline="central" stroke="#111" stroke-width="0.1" >-10</text>
<line x1="256.55" y1="465.50" x2="256.55" y2="468.90" stroke="#111" stroke-width="1.35" />
<text x="256.55" y="477.60" font-size="8.7" text-anchor="middle" font-weight="normal" fill="#111" dominant-baseline="central" stroke="#111" stroke-width="0.1" >-9</text>
<line x1="277.50" y1="465.50" x2="277.50" y2="468.90" stroke="#111" stroke-width="1.35" />
<text x="277.50" y="477.60" font-size="8.7" text-anchor="middle" font-weight="normal" fill="#111" dominant-baseline="central" stroke="#111" stroke-width="0.1" >-8</text>
<line x1="298.45" y1="465.50" x2="298.45" y2="468.90" stroke="#111" stroke-width="1.35" />
<text x="298.45" y="477.60" font-size="8.7" text-anchor="middle" font-weight="normal" fill="#111" dominant-baseline="central" stroke="#111" stroke-width="0.1" >-7</text>
<line x1="319.40" y1="465.50" x2="319.40" y2="468.90" stroke="#111" stroke-width="1.35" />
<text x="319.40" y="477.60" font-size="8.7" text-anchor="middle" font-weight="normal" fill="#111" dominant-baseline="central" stroke="#111" stroke-width="0.1" >-6</text>
<line x1="340.35" y1="465.50" x2="340.35" y2="468.90" stroke="#111" stroke-width="1.35" />
<text x="340.35" y="477.60" font-size="8.7" text-anchor="middle" font-weight="normal" fill="#111" dominant-baseline="central" stroke="#111" stroke-width="0.1" >-5</text>
<text x="0" y="0" font-size="10.8" text-anchor="middle" fill="#111" stroke="#111" stroke-width="0.25" transform="translate(207.8,387.3) rotate(-90)" textLength="86" lengthAdjust="spacingAndGlyphs">% Max light transmission</text>
<text x="289.70" y="495.50" font-size="9.9" text-anchor="middle" font-weight="normal" fill="#111" dominant-baseline="auto" textLength="70.8" lengthAdjust="spacingAndGlyphs" stroke="#111" stroke-width="0.2" >log [collagen] (g/ml)</text>
<line x1="256.55" y1="442.84" x2="256.55" y2="445.04" stroke="#c4c4c4" stroke-width="1.0" />
<line x1="254.15" y1="442.84" x2="258.95" y2="442.84" stroke="#c4c4c4" stroke-width="1.0" />
<line x1="254.15" y1="445.04" x2="258.95" y2="445.04" stroke="#c4c4c4" stroke-width="1.0" />
<line x1="266.61" y1="440.42" x2="266.61" y2="442.62" stroke="#c4c4c4" stroke-width="1.0" />
<line x1="264.21" y1="440.42" x2="269.01" y2="440.42" stroke="#c4c4c4" stroke-width="1.0" />
<line x1="264.21" y1="442.62" x2="269.01" y2="442.62" stroke="#c4c4c4" stroke-width="1.0" />
<line x1="277.50" y1="434.37" x2="277.50" y2="437.67" stroke="#c4c4c4" stroke-width="1.0" />
<line x1="275.10" y1="434.37" x2="279.90" y2="434.37" stroke="#c4c4c4" stroke-width="1.0" />
<line x1="275.10" y1="437.67" x2="279.90" y2="437.67" stroke="#c4c4c4" stroke-width="1.0" />
<line x1="287.56" y1="413.91" x2="287.56" y2="422.71" stroke="#c4c4c4" stroke-width="1.0" />
<line x1="285.16" y1="413.91" x2="289.96" y2="413.91" stroke="#c4c4c4" stroke-width="1.0" />
<line x1="285.16" y1="422.71" x2="289.96" y2="422.71" stroke="#c4c4c4" stroke-width="1.0" />
<line x1="298.45" y1="354.18" x2="298.45" y2="365.18" stroke="#c4c4c4" stroke-width="1.0" />
<line x1="296.05" y1="354.18" x2="300.85" y2="354.18" stroke="#c4c4c4" stroke-width="1.0" />
<line x1="296.05" y1="365.18" x2="300.85" y2="365.18" stroke="#c4c4c4" stroke-width="1.0" />
<line x1="308.51" y1="338.23" x2="308.51" y2="340.43" stroke="#c4c4c4" stroke-width="1.0" />
<line x1="306.11" y1="338.23" x2="310.91" y2="338.23" stroke="#c4c4c4" stroke-width="1.0" />
<line x1="306.11" y1="340.43" x2="310.91" y2="340.43" stroke="#c4c4c4" stroke-width="1.0" />
<line x1="319.40" y1="340.21" x2="319.40" y2="342.41" stroke="#c4c4c4" stroke-width="1.0" />
<line x1="317.00" y1="340.21" x2="321.80" y2="340.21" stroke="#c4c4c4" stroke-width="1.0" />
<line x1="317.00" y1="342.41" x2="321.80" y2="342.41" stroke="#c4c4c4" stroke-width="1.0" />
<line x1="329.46" y1="338.23" x2="329.46" y2="340.43" stroke="#c4c4c4" stroke-width="1.0" />
<line x1="327.06" y1="338.23" x2="331.86" y2="338.23" stroke="#c4c4c4" stroke-width="1.0" />
<line x1="327.06" y1="340.43" x2="331.86" y2="340.43" stroke="#c4c4c4" stroke-width="1.0" />
<line x1="256.55" y1="434.15" x2="256.55" y2="445.15" stroke="#3a5fa8" stroke-width="1.0" />
<line x1="254.15" y1="434.15" x2="258.95" y2="434.15" stroke="#3a5fa8" stroke-width="1.0" />
<line x1="254.15" y1="445.15" x2="258.95" y2="445.15" stroke="#3a5fa8" stroke-width="1.0" />
<line x1="266.61" y1="437.45" x2="266.61" y2="444.05" stroke="#3a5fa8" stroke-width="1.0" />
<line x1="264.21" y1="437.45" x2="269.01" y2="437.45" stroke="#3a5fa8" stroke-width="1.0" />
<line x1="264.21" y1="444.05" x2="269.01" y2="444.05" stroke="#3a5fa8" stroke-width="1.0" />
<line x1="277.50" y1="437.45" x2="277.50" y2="441.85" stroke="#3a5fa8" stroke-width="1.0" />
<line x1="275.10" y1="437.45" x2="279.90" y2="437.45" stroke="#3a5fa8" stroke-width="1.0" />
<line x1="275.10" y1="441.85" x2="279.90" y2="441.85" stroke="#3a5fa8" stroke-width="1.0" />
<line x1="287.56" y1="434.48" x2="287.56" y2="436.68" stroke="#3a5fa8" stroke-width="1.0" />
<line x1="285.16" y1="434.48" x2="289.96" y2="434.48" stroke="#3a5fa8" stroke-width="1.0" />
<line x1="285.16" y1="436.68" x2="289.96" y2="436.68" stroke="#3a5fa8" stroke-width="1.0" />
<line x1="298.45" y1="419.19" x2="298.45" y2="430.85" stroke="#3a5fa8" stroke-width="1.0" />
<line x1="296.05" y1="419.19" x2="300.85" y2="419.19" stroke="#3a5fa8" stroke-width="1.0" />
<line x1="296.05" y1="430.85" x2="300.85" y2="430.85" stroke="#3a5fa8" stroke-width="1.0" />
<line x1="308.51" y1="386.63" x2="308.51" y2="419.63" stroke="#3a5fa8" stroke-width="1.0" />
<line x1="306.11" y1="386.63" x2="310.91" y2="386.63" stroke="#3a5fa8" stroke-width="1.0" />
<line x1="306.11" y1="419.63" x2="310.91" y2="419.63" stroke="#3a5fa8" stroke-width="1.0" />
<line x1="319.40" y1="336.69" x2="319.40" y2="368.59" stroke="#3a5fa8" stroke-width="1.0" />
<line x1="317.00" y1="336.69" x2="321.80" y2="336.69" stroke="#3a5fa8" stroke-width="1.0" />
<line x1="317.00" y1="368.59" x2="321.80" y2="368.59" stroke="#3a5fa8" stroke-width="1.0" />
<line x1="329.46" y1="342.41" x2="329.46" y2="369.91" stroke="#3a5fa8" stroke-width="1.0" />
<line x1="327.06" y1="342.41" x2="331.86" y2="342.41" stroke="#3a5fa8" stroke-width="1.0" />
<line x1="327.06" y1="369.91" x2="331.86" y2="369.91" stroke="#3a5fa8" stroke-width="1.0" />
<line x1="256.55" y1="444.93" x2="256.55" y2="449.33" stroke="#72b84e" stroke-width="1.0" />
<line x1="254.15" y1="444.93" x2="258.95" y2="444.93" stroke="#72b84e" stroke-width="1.0" />
<line x1="254.15" y1="449.33" x2="258.95" y2="449.33" stroke="#72b84e" stroke-width="1.0" />
<line x1="266.61" y1="446.80" x2="266.61" y2="451.20" stroke="#72b84e" stroke-width="1.0" />
<line x1="264.21" y1="446.80" x2="269.01" y2="446.80" stroke="#72b84e" stroke-width="1.0" />
<line x1="264.21" y1="451.20" x2="269.01" y2="451.20" stroke="#72b84e" stroke-width="1.0" />
<line x1="277.50" y1="446.25" x2="277.50" y2="450.65" stroke="#72b84e" stroke-width="1.0" />
<line x1="275.10" y1="446.25" x2="279.90" y2="446.25" stroke="#72b84e" stroke-width="1.0" />
<line x1="275.10" y1="450.65" x2="279.90" y2="450.65" stroke="#72b84e" stroke-width="1.0" />
<line x1="287.56" y1="450.65" x2="287.56" y2="453.95" stroke="#72b84e" stroke-width="1.0" />
<line x1="285.16" y1="450.65" x2="289.96" y2="450.65" stroke="#72b84e" stroke-width="1.0" />
<line x1="285.16" y1="453.95" x2="289.96" y2="453.95" stroke="#72b84e" stroke-width="1.0" />
<line x1="298.45" y1="448.78" x2="298.45" y2="452.08" stroke="#72b84e" stroke-width="1.0" />
<line x1="296.05" y1="448.78" x2="300.85" y2="448.78" stroke="#72b84e" stroke-width="1.0" />
<line x1="296.05" y1="452.08" x2="300.85" y2="452.08" stroke="#72b84e" stroke-width="1.0" />
<line x1="308.51" y1="449.33" x2="308.51" y2="452.63" stroke="#72b84e" stroke-width="1.0" />
<line x1="306.11" y1="449.33" x2="310.91" y2="449.33" stroke="#72b84e" stroke-width="1.0" />
<line x1="306.11" y1="452.63" x2="310.91" y2="452.63" stroke="#72b84e" stroke-width="1.0" />
<line x1="319.40" y1="448.78" x2="319.40" y2="453.18" stroke="#72b84e" stroke-width="1.0" />
<line x1="317.00" y1="448.78" x2="321.80" y2="448.78" stroke="#72b84e" stroke-width="1.0" />
<line x1="317.00" y1="453.18" x2="321.80" y2="453.18" stroke="#72b84e" stroke-width="1.0" />
<line x1="329.46" y1="454.50" x2="329.46" y2="458.90" stroke="#72b84e" stroke-width="1.0" />
<line x1="327.06" y1="454.50" x2="331.86" y2="454.50" stroke="#72b84e" stroke-width="1.0" />
<line x1="327.06" y1="458.90" x2="331.86" y2="458.90" stroke="#72b84e" stroke-width="1.0" />
<line x1="256.55" y1="435.03" x2="256.55" y2="443.83" stroke="#c0305a" stroke-width="1.0" />
<line x1="254.15" y1="435.03" x2="258.95" y2="435.03" stroke="#c0305a" stroke-width="1.0" />
<line x1="254.15" y1="443.83" x2="258.95" y2="443.83" stroke="#c0305a" stroke-width="1.0" />
<line x1="266.61" y1="438.00" x2="266.61" y2="444.60" stroke="#c0305a" stroke-width="1.0" />
<line x1="264.21" y1="438.00" x2="269.01" y2="438.00" stroke="#c0305a" stroke-width="1.0" />
<line x1="264.21" y1="444.60" x2="269.01" y2="444.60" stroke="#c0305a" stroke-width="1.0" />
<line x1="277.50" y1="438.00" x2="277.50" y2="444.60" stroke="#c0305a" stroke-width="1.0" />
<line x1="275.10" y1="438.00" x2="279.90" y2="438.00" stroke="#c0305a" stroke-width="1.0" />
<line x1="275.10" y1="444.60" x2="279.90" y2="444.60" stroke="#c0305a" stroke-width="1.0" />
<line x1="287.56" y1="438.99" x2="287.56" y2="445.59" stroke="#c0305a" stroke-width="1.0" />
<line x1="285.16" y1="438.99" x2="289.96" y2="438.99" stroke="#c0305a" stroke-width="1.0" />
<line x1="285.16" y1="445.59" x2="289.96" y2="445.59" stroke="#c0305a" stroke-width="1.0" />
<line x1="298.45" y1="436.02" x2="298.45" y2="444.82" stroke="#c0305a" stroke-width="1.0" />
<line x1="296.05" y1="436.02" x2="300.85" y2="436.02" stroke="#c0305a" stroke-width="1.0" />
<line x1="296.05" y1="444.82" x2="300.85" y2="444.82" stroke="#c0305a" stroke-width="1.0" />
<line x1="308.51" y1="438.55" x2="308.51" y2="445.15" stroke="#c0305a" stroke-width="1.0" />
<line x1="306.11" y1="438.55" x2="310.91" y2="438.55" stroke="#c0305a" stroke-width="1.0" />
<line x1="306.11" y1="445.15" x2="310.91" y2="445.15" stroke="#c0305a" stroke-width="1.0" />
<line x1="319.40" y1="441.30" x2="319.40" y2="447.90" stroke="#c0305a" stroke-width="1.0" />
<line x1="317.00" y1="441.30" x2="321.80" y2="441.30" stroke="#c0305a" stroke-width="1.0" />
<line x1="317.00" y1="447.90" x2="321.80" y2="447.90" stroke="#c0305a" stroke-width="1.0" />
<line x1="329.46" y1="444.38" x2="329.46" y2="450.98" stroke="#c0305a" stroke-width="1.0" />
<line x1="327.06" y1="444.38" x2="331.86" y2="444.38" stroke="#c0305a" stroke-width="1.0" />
<line x1="327.06" y1="450.98" x2="331.86" y2="450.98" stroke="#c0305a" stroke-width="1.0" />
<path d="M256.55,442.94 L257.47,442.94 L258.38,442.94 L259.30,442.94 L260.22,442.93 L261.13,442.93 L262.05,442.92 L262.97,442.91 L263.88,442.90 L264.80,442.89 L265.72,442.88 L266.63,442.86 L267.55,442.83 L268.47,442.80 L269.38,442.76 L270.30,442.70 L271.21,442.64 L272.13,442.55 L273.05,442.44 L273.96,442.31 L274.88,442.13 L275.80,441.91 L276.71,441.63 L277.63,441.27 L278.55,440.82 L279.46,440.26 L280.38,439.54 L281.30,438.65 L282.21,437.54 L283.13,436.15 L284.05,434.44 L284.96,432.35 L285.88,429.82 L286.80,426.79 L287.71,423.21 L288.63,419.05 L289.55,414.32 L290.46,409.04 L291.38,403.30 L292.30,397.23 L293.21,390.98 L294.13,384.72 L295.05,378.65 L295.96,372.91 L296.88,367.63 L297.80,362.90 L298.71,358.74 L299.63,355.16 L300.54,352.13 L301.46,349.60 L302.38,347.51 L303.29,345.80 L304.21,344.41 L305.13,343.30 L306.04,342.41 L306.96,341.69 L307.88,341.13 L308.79,340.68 L309.71,340.32 L310.63,340.04 L311.54,339.82 L312.46,339.64 L313.38,339.51 L314.29,339.40 L315.21,339.31 L316.13,339.25 L317.04,339.19 L317.96,339.15 L318.88,339.12 L319.79,339.09 L320.71,339.07 L321.63,339.06 L322.54,339.05 L323.46,339.04 L324.38,339.03 L325.29,339.02 L326.21,339.02 L327.13,339.01 L328.04,339.01 L328.96,339.01 L329.88,339.01" fill="none" stroke="#c4c4c4" stroke-width="1.5"/>
<path d="M256.55,439.65 L257.47,439.65 L258.38,439.65 L259.30,439.65 L260.22,439.65 L261.13,439.65 L262.05,439.65 L262.97,439.65 L263.88,439.65 L264.80,439.65 L265.72,439.64 L266.63,439.64 L267.55,439.64 L268.47,439.64 L269.38,439.64 L270.30,439.64 L271.21,439.63 L272.13,439.63 L273.05,439.62 L273.96,439.62 L274.88,439.61 L275.80,439.60 L276.71,439.59 L277.63,439.58 L278.55,439.56 L279.46,439.54 L280.38,439.51 L281.30,439.48 L282.21,439.45 L283.13,439.40 L284.05,439.35 L284.96,439.28 L285.88,439.20 L286.80,439.10 L287.71,438.97 L288.63,438.83 L289.55,438.64 L290.46,438.42 L291.38,438.15 L292.30,437.82 L293.21,437.43 L294.13,436.94 L295.05,436.36 L295.96,435.66 L296.88,434.82 L297.80,433.81 L298.71,432.61 L299.63,431.18 L300.54,429.50 L301.46,427.54 L302.38,425.27 L303.29,422.66 L304.21,419.70 L305.13,416.38 L306.04,412.73 L306.96,408.77 L307.88,404.54 L308.79,400.12 L309.71,395.58 L310.63,391.02 L311.54,386.52 L312.46,382.17 L313.38,378.05 L314.29,374.21 L315.21,370.70 L316.13,367.54 L317.04,364.73 L317.96,362.27 L318.88,360.13 L319.79,358.29 L320.71,356.73 L321.63,355.40 L322.54,354.29 L323.46,353.35 L324.38,352.57 L325.29,351.92 L326.21,351.39 L327.13,350.94 L328.04,350.58 L328.96,350.28 L329.88,350.03" fill="none" stroke="#244a94" stroke-width="1.5"/>
<path d="M256.55,447.13 L266.61,449.00 L277.50,448.45 L287.56,452.30 L298.45,450.43 L308.51,450.98 L319.40,450.98 L329.46,456.70" fill="none" stroke="#72b84e" stroke-width="1.6"/>
<path d="M256.55,439.43 L266.61,441.30 L277.50,441.30 L287.56,442.29 L298.45,440.42 L308.51,441.85 L319.40,444.60 L329.46,447.68" fill="none" stroke="#b3123c" stroke-width="1.7"/>
<rect x="254.05" y="444.63" width="5.0" height="5.0" fill="#67b445" stroke="#111" stroke-width="1.15"/>
<rect x="264.11" y="446.50" width="5.0" height="5.0" fill="#67b445" stroke="#111" stroke-width="1.15"/>
<rect x="275.00" y="445.95" width="5.0" height="5.0" fill="#67b445" stroke="#111" stroke-width="1.15"/>
<rect x="285.06" y="449.80" width="5.0" height="5.0" fill="#67b445" stroke="#111" stroke-width="1.15"/>
<rect x="295.95" y="447.93" width="5.0" height="5.0" fill="#67b445" stroke="#111" stroke-width="1.15"/>
<rect x="306.01" y="448.48" width="5.0" height="5.0" fill="#67b445" stroke="#111" stroke-width="1.15"/>
<rect x="316.90" y="448.48" width="5.0" height="5.0" fill="#67b445" stroke="#111" stroke-width="1.15"/>
<rect x="326.96" y="454.20" width="5.0" height="5.0" fill="#67b445" stroke="#111" stroke-width="1.15"/>
<polygon points="256.55,437.15 259.05,439.65 256.55,442.15 254.05,439.65" fill="#fff" stroke="#244a94" stroke-width="1.1"/>
<polygon points="266.61,438.25 269.11,440.75 266.61,443.25 264.11,440.75" fill="#fff" stroke="#244a94" stroke-width="1.1"/>
<polygon points="277.50,437.15 280.00,439.65 277.50,442.15 275.00,439.65" fill="#fff" stroke="#244a94" stroke-width="1.1"/>
<polygon points="287.56,433.08 290.06,435.58 287.56,438.08 285.06,435.58" fill="#fff" stroke="#244a94" stroke-width="1.1"/>
<polygon points="298.45,422.52 300.95,425.02 298.45,427.52 295.95,425.02" fill="#fff" stroke="#244a94" stroke-width="1.1"/>
<polygon points="308.51,400.63 311.01,403.13 308.51,405.63 306.01,403.13" fill="#fff" stroke="#244a94" stroke-width="1.1"/>
<polygon points="319.40,350.14 321.90,352.64 319.40,355.14 316.90,352.64" fill="#fff" stroke="#244a94" stroke-width="1.1"/>
<polygon points="329.46,353.66 331.96,356.16 329.46,358.66 326.96,356.16" fill="#fff" stroke="#244a94" stroke-width="1.1"/>
<polygon points="256.55,436.30 259.45,441.52 253.65,441.52" fill="#c8102e" stroke="#111" stroke-width="1.15" stroke-linejoin="miter"/>
<polygon points="266.61,438.17 269.51,443.39 263.71,443.39" fill="#c8102e" stroke="#111" stroke-width="1.15" stroke-linejoin="miter"/>
<polygon points="277.50,438.17 280.40,443.39 274.60,443.39" fill="#c8102e" stroke="#111" stroke-width="1.15" stroke-linejoin="miter"/>
<polygon points="287.56,439.16 290.46,444.38 284.66,444.38" fill="#c8102e" stroke="#111" stroke-width="1.15" stroke-linejoin="miter"/>
<polygon points="298.45,437.29 301.35,442.51 295.55,442.51" fill="#c8102e" stroke="#111" stroke-width="1.15" stroke-linejoin="miter"/>
<polygon points="308.51,438.72 311.41,443.94 305.61,443.94" fill="#c8102e" stroke="#111" stroke-width="1.15" stroke-linejoin="miter"/>
<polygon points="319.40,441.47 322.30,446.69 316.50,446.69" fill="#c8102e" stroke="#111" stroke-width="1.15" stroke-linejoin="miter"/>
<polygon points="329.46,444.55 332.36,449.77 326.56,449.77" fill="#c8102e" stroke="#111" stroke-width="1.15" stroke-linejoin="miter"/>
<circle cx="256.55" cy="443.94" r="2.55" fill="#d2d2d2" stroke="#111" stroke-width="1.05"/>
<circle cx="266.61" cy="441.52" r="2.55" fill="#d2d2d2" stroke="#111" stroke-width="1.05"/>
<circle cx="277.50" cy="436.02" r="2.55" fill="#d2d2d2" stroke="#111" stroke-width="1.05"/>
<circle cx="287.56" cy="418.31" r="2.55" fill="#d2d2d2" stroke="#111" stroke-width="1.05"/>
<circle cx="298.45" cy="359.68" r="2.55" fill="#d2d2d2" stroke="#111" stroke-width="1.05"/>
<circle cx="308.51" cy="339.33" r="2.55" fill="#d2d2d2" stroke="#111" stroke-width="1.05"/>
<circle cx="319.40" cy="341.31" r="2.55" fill="#d2d2d2" stroke="#111" stroke-width="1.05"/>
<circle cx="329.46" cy="339.33" r="2.55" fill="#d2d2d2" stroke="#111" stroke-width="1.05"/>
<text x="323.70" y="424.00" font-size="8.6" text-anchor="middle" font-weight="normal" fill="#111" dominant-baseline="central" textLength="35" lengthAdjust="spacingAndGlyphs" stroke="#111" stroke-width="0.02" >p <tspan font-size="10.5">&lt;</tspan> 0.001</text>
<line x1="306.50" y1="430.80" x2="329.60" y2="430.80" stroke="#444" stroke-width="1.2" />
<line x1="351.90" y1="388.50" x2="366.60" y2="388.50" stroke="#c4c4c4" stroke-width="1.7" />
<circle cx="359.20" cy="388.50" r="2.5" fill="#d2d2d2" stroke="#111" stroke-width="1.1"/>
<text x="370.60" y="388.80" font-size="8.0" text-anchor="start" font-weight="normal" fill="#111" dominant-baseline="central" stroke="#111" stroke-width="0.1" >Healthy Donors</text>
<line x1="351.90" y1="406.20" x2="366.60" y2="406.20" stroke="#b3123c" stroke-width="1.7" />
<polygon points="359.20,403.28 361.90,408.14 356.50,408.14" fill="#c8102e" stroke="#111" stroke-width="1.15" stroke-linejoin="miter"/>
<text x="370.60" y="406.50" font-size="8.0" text-anchor="start" font-weight="normal" fill="#111" dominant-baseline="central" stroke="#111" stroke-width="0.1" >Acalabrutinib Patients</text>
<line x1="351.90" y1="423.90" x2="366.60" y2="423.90" stroke="#72b84e" stroke-width="1.7" />
<rect x="356.95" y="421.65" width="4.5" height="4.5" fill="#67b445" stroke="#111" stroke-width="1.1"/>
<text x="370.60" y="424.20" font-size="8.0" text-anchor="start" font-weight="normal" fill="#111" dominant-baseline="central" stroke="#111" stroke-width="0.1" >Ibrutinib Patients</text>
<line x1="351.90" y1="441.60" x2="366.60" y2="441.60" stroke="#244a94" stroke-width="1.7" />
<polygon points="359.20,439.00 361.80,441.60 359.20,444.20 356.60,441.60" fill="#fff" stroke="#244a94" stroke-width="1.1"/>
<text x="370.60" y="441.90" font-size="8.0" text-anchor="start" font-weight="normal" fill="#111" dominant-baseline="central" stroke="#111" stroke-width="0.1" >Btk Inhibitor Naive Patients</text>
<line x1="59.70" y1="551.50" x2="59.70" y2="708.90" stroke="#111" stroke-width="1.35" />
<line x1="56.00" y1="708.30" x2="59.70" y2="708.30" stroke="#111" stroke-width="1.35" />
<text x="51.70" y="708.60" font-size="8.7" text-anchor="end" font-weight="normal" fill="#111" dominant-baseline="central" stroke="#111" stroke-width="0.1" >0</text>
<line x1="56.00" y1="677.56" x2="59.70" y2="677.56" stroke="#111" stroke-width="1.35" />
<text x="51.70" y="677.86" font-size="8.7" text-anchor="end" font-weight="normal" fill="#111" dominant-baseline="central" stroke="#111" stroke-width="0.1" >20</text>
<line x1="56.00" y1="646.82" x2="59.70" y2="646.82" stroke="#111" stroke-width="1.35" />
<text x="51.70" y="647.12" font-size="8.7" text-anchor="end" font-weight="normal" fill="#111" dominant-baseline="central" stroke="#111" stroke-width="0.1" >40</text>
<line x1="56.00" y1="616.08" x2="59.70" y2="616.08" stroke="#111" stroke-width="1.35" />
<text x="51.70" y="616.38" font-size="8.7" text-anchor="end" font-weight="normal" fill="#111" dominant-baseline="central" stroke="#111" stroke-width="0.1" >60</text>
<line x1="56.00" y1="585.34" x2="59.70" y2="585.34" stroke="#111" stroke-width="1.35" />
<text x="51.70" y="585.64" font-size="8.7" text-anchor="end" font-weight="normal" fill="#111" dominant-baseline="central" stroke="#111" stroke-width="0.1" >80</text>
<line x1="56.00" y1="554.60" x2="59.70" y2="554.60" stroke="#111" stroke-width="1.35" />
<text x="51.70" y="554.90" font-size="8.7" text-anchor="end" font-weight="normal" fill="#111" dominant-baseline="central" stroke="#111" stroke-width="0.1" >100</text>
<line x1="59.10" y1="708.30" x2="73.60" y2="708.30" stroke="#111" stroke-width="1.35" />
<line x1="73.60" y1="705.20" x2="73.60" y2="711.40" stroke="#111" stroke-width="1.35" />
<line x1="84.80" y1="708.30" x2="148.75" y2="708.30" stroke="#111" stroke-width="1.35" />
<line x1="84.80" y1="705.20" x2="84.80" y2="711.40" stroke="#111" stroke-width="1.35" />
<line x1="105.25" y1="708.30" x2="105.25" y2="711.60" stroke="#111" stroke-width="1.35" />
<line x1="125.50" y1="708.30" x2="125.50" y2="711.60" stroke="#111" stroke-width="1.35" />
<line x1="145.75" y1="708.30" x2="145.75" y2="711.60" stroke="#111" stroke-width="1.35" />
<text x="85.00" y="720.50" font-size="8.7" text-anchor="middle" font-weight="normal" fill="#111" dominant-baseline="central" stroke="#111" stroke-width="0.1" >-8</text>
<text x="105.25" y="720.50" font-size="8.7" text-anchor="middle" font-weight="normal" fill="#111" dominant-baseline="central" stroke="#111" stroke-width="0.1" >-7</text>
<text x="125.50" y="720.50" font-size="8.7" text-anchor="middle" font-weight="normal" fill="#111" dominant-baseline="central" stroke="#111" stroke-width="0.1" >-6</text>
<text x="145.75" y="720.50" font-size="8.7" text-anchor="middle" font-weight="normal" fill="#111" dominant-baseline="central" stroke="#111" stroke-width="0.1" >-5</text>
<text x="0" y="0" font-size="11.0" text-anchor="middle" fill="#111" stroke="#111" stroke-width="0.25" transform="translate(29.8,629.8) rotate(-90)" textLength="67.6" lengthAdjust="spacingAndGlyphs">% light transmission</text>
<text x="104.00" y="738.00" font-size="9.9" text-anchor="middle" font-weight="normal" fill="#111" dominant-baseline="auto" textLength="55" lengthAdjust="spacingAndGlyphs" stroke="#111" stroke-width="0.2" >log[CRP]  (g/ml)</text>
<text x="69.60" y="545.00" font-size="10.8" text-anchor="start" font-weight="bold" fill="#000" dominant-baseline="auto" stroke="#000" stroke-width="0.1" >Acalabrutinib</text>
<line x1="236.10" y1="551.50" x2="236.10" y2="708.90" stroke="#111" stroke-width="1.35" />
<line x1="232.40" y1="708.20" x2="236.10" y2="708.20" stroke="#111" stroke-width="1.35" />
<text x="228.10" y="708.50" font-size="8.7" text-anchor="end" font-weight="normal" fill="#111" dominant-baseline="central" stroke="#111" stroke-width="0.1" >0</text>
<line x1="232.40" y1="677.46" x2="236.10" y2="677.46" stroke="#111" stroke-width="1.35" />
<text x="228.10" y="677.76" font-size="8.7" text-anchor="end" font-weight="normal" fill="#111" dominant-baseline="central" stroke="#111" stroke-width="0.1" >20</text>
<line x1="232.40" y1="646.72" x2="236.10" y2="646.72" stroke="#111" stroke-width="1.35" />
<text x="228.10" y="647.02" font-size="8.7" text-anchor="end" font-weight="normal" fill="#111" dominant-baseline="central" stroke="#111" stroke-width="0.1" >40</text>
<line x1="232.40" y1="615.98" x2="236.10" y2="615.98" stroke="#111" stroke-width="1.35" />
<text x="228.10" y="616.28" font-size="8.7" text-anchor="end" font-weight="normal" fill="#111" dominant-baseline="central" stroke="#111" stroke-width="0.1" >60</text>
<line x1="232.40" y1="585.24" x2="236.10" y2="585.24" stroke="#111" stroke-width="1.35" />
<text x="228.10" y="585.54" font-size="8.7" text-anchor="end" font-weight="normal" fill="#111" dominant-baseline="central" stroke="#111" stroke-width="0.1" >80</text>
<line x1="232.40" y1="554.50" x2="236.10" y2="554.50" stroke="#111" stroke-width="1.35" />
<text x="228.10" y="554.80" font-size="8.7" text-anchor="end" font-weight="normal" fill="#111" dominant-baseline="central" stroke="#111" stroke-width="0.1" >100</text>
<line x1="235.50" y1="708.30" x2="250.40" y2="708.30" stroke="#111" stroke-width="1.35" />
<line x1="250.40" y1="705.20" x2="250.40" y2="711.40" stroke="#111" stroke-width="1.35" />
<line x1="261.60" y1="708.30" x2="325.40" y2="708.30" stroke="#111" stroke-width="1.35" />
<line x1="261.60" y1="705.20" x2="261.60" y2="711.40" stroke="#111" stroke-width="1.35" />
<line x1="282.00" y1="708.30" x2="282.00" y2="711.60" stroke="#111" stroke-width="1.35" />
<line x1="302.20" y1="708.30" x2="302.20" y2="711.60" stroke="#111" stroke-width="1.35" />
<line x1="322.40" y1="708.30" x2="322.40" y2="711.60" stroke="#111" stroke-width="1.35" />
<text x="261.80" y="720.50" font-size="8.7" text-anchor="middle" font-weight="normal" fill="#111" dominant-baseline="central" stroke="#111" stroke-width="0.1" >-8</text>
<text x="282.00" y="720.50" font-size="8.7" text-anchor="middle" font-weight="normal" fill="#111" dominant-baseline="central" stroke="#111" stroke-width="0.1" >-7</text>
<text x="302.20" y="720.50" font-size="8.7" text-anchor="middle" font-weight="normal" fill="#111" dominant-baseline="central" stroke="#111" stroke-width="0.1" >-6</text>
<text x="322.40" y="720.50" font-size="8.7" text-anchor="middle" font-weight="normal" fill="#111" dominant-baseline="central" stroke="#111" stroke-width="0.1" >-5</text>
<text x="0" y="0" font-size="11.0" text-anchor="middle" fill="#111" stroke="#111" stroke-width="0.25" transform="translate(207.0,629.8) rotate(-90)" textLength="67.6" lengthAdjust="spacingAndGlyphs">% light transmission</text>
<text x="280.50" y="738.00" font-size="9.9" text-anchor="middle" font-weight="normal" fill="#111" dominant-baseline="auto" textLength="55" lengthAdjust="spacingAndGlyphs" stroke="#111" stroke-width="0.2" >log[CRP]  (g/ml)</text>
<text x="259.30" y="545.00" font-size="10.8" text-anchor="start" font-weight="bold" fill="#000" dominant-baseline="auto" stroke="#000" stroke-width="0.1" >Ibrutinib</text>
<line x1="85.00" y1="685.55" x2="85.00" y2="691.70" stroke="#9a90d8" stroke-width="0.9" />
<line x1="82.70" y1="685.55" x2="87.30" y2="685.55" stroke="#9a90d8" stroke-width="0.9" />
<line x1="82.70" y1="691.70" x2="87.30" y2="691.70" stroke="#9a90d8" stroke-width="0.9" />
<line x1="94.72" y1="686.78" x2="94.72" y2="692.93" stroke="#9a90d8" stroke-width="0.9" />
<line x1="92.42" y1="686.78" x2="97.02" y2="686.78" stroke="#9a90d8" stroke-width="0.9" />
<line x1="92.42" y1="692.93" x2="97.02" y2="692.93" stroke="#9a90d8" stroke-width="0.9" />
<line x1="105.25" y1="688.17" x2="105.25" y2="697.39" stroke="#9a90d8" stroke-width="0.9" />
<line x1="102.95" y1="688.17" x2="107.55" y2="688.17" stroke="#9a90d8" stroke-width="0.9" />
<line x1="102.95" y1="697.39" x2="107.55" y2="697.39" stroke="#9a90d8" stroke-width="0.9" />
<line x1="114.97" y1="686.01" x2="114.97" y2="695.24" stroke="#9a90d8" stroke-width="0.9" />
<line x1="112.67" y1="686.01" x2="117.27" y2="686.01" stroke="#9a90d8" stroke-width="0.9" />
<line x1="112.67" y1="695.24" x2="117.27" y2="695.24" stroke="#9a90d8" stroke-width="0.9" />
<line x1="125.50" y1="684.48" x2="125.50" y2="696.77" stroke="#9a90d8" stroke-width="0.9" />
<line x1="123.20" y1="684.48" x2="127.80" y2="684.48" stroke="#9a90d8" stroke-width="0.9" />
<line x1="123.20" y1="696.77" x2="127.80" y2="696.77" stroke="#9a90d8" stroke-width="0.9" />
<line x1="135.22" y1="670.49" x2="135.22" y2="698.16" stroke="#9a90d8" stroke-width="0.9" />
<line x1="132.92" y1="670.49" x2="137.52" y2="670.49" stroke="#9a90d8" stroke-width="0.9" />
<line x1="132.92" y1="698.16" x2="137.52" y2="698.16" stroke="#9a90d8" stroke-width="0.9" />
<line x1="66.20" y1="684.48" x2="66.20" y2="695.24" stroke="#9a90d8" stroke-width="0.9" />
<line x1="63.90" y1="684.48" x2="68.50" y2="684.48" stroke="#9a90d8" stroke-width="0.9" />
<line x1="63.90" y1="695.24" x2="68.50" y2="695.24" stroke="#9a90d8" stroke-width="0.9" />
<line x1="85.00" y1="685.55" x2="85.00" y2="691.70" stroke="#2f6b4b" stroke-width="0.9" />
<line x1="82.70" y1="685.55" x2="87.30" y2="685.55" stroke="#2f6b4b" stroke-width="0.9" />
<line x1="82.70" y1="691.70" x2="87.30" y2="691.70" stroke="#2f6b4b" stroke-width="0.9" />
<line x1="94.72" y1="689.70" x2="94.72" y2="695.85" stroke="#2f6b4b" stroke-width="0.9" />
<line x1="92.42" y1="689.70" x2="97.02" y2="689.70" stroke="#2f6b4b" stroke-width="0.9" />
<line x1="92.42" y1="695.85" x2="97.02" y2="695.85" stroke="#2f6b4b" stroke-width="0.9" />
<line x1="105.25" y1="691.85" x2="105.25" y2="701.08" stroke="#2f6b4b" stroke-width="0.9" />
<line x1="102.95" y1="691.85" x2="107.55" y2="691.85" stroke="#2f6b4b" stroke-width="0.9" />
<line x1="102.95" y1="701.08" x2="107.55" y2="701.08" stroke="#2f6b4b" stroke-width="0.9" />
<line x1="114.97" y1="672.64" x2="114.97" y2="688.01" stroke="#2f6b4b" stroke-width="0.9" />
<line x1="112.67" y1="672.64" x2="117.27" y2="672.64" stroke="#2f6b4b" stroke-width="0.9" />
<line x1="112.67" y1="688.01" x2="117.27" y2="688.01" stroke="#2f6b4b" stroke-width="0.9" />
<line x1="125.50" y1="613.01" x2="125.50" y2="637.60" stroke="#2f6b4b" stroke-width="0.9" />
<line x1="123.20" y1="613.01" x2="127.80" y2="613.01" stroke="#2f6b4b" stroke-width="0.9" />
<line x1="123.20" y1="637.60" x2="127.80" y2="637.60" stroke="#2f6b4b" stroke-width="0.9" />
<line x1="135.22" y1="597.17" x2="135.22" y2="614.08" stroke="#2f6b4b" stroke-width="0.9" />
<line x1="132.92" y1="597.17" x2="137.52" y2="597.17" stroke="#2f6b4b" stroke-width="0.9" />
<line x1="132.92" y1="614.08" x2="137.52" y2="614.08" stroke="#2f6b4b" stroke-width="0.9" />
<line x1="66.20" y1="683.71" x2="66.20" y2="694.47" stroke="#2f6b4b" stroke-width="0.9" />
<line x1="63.90" y1="683.71" x2="68.50" y2="683.71" stroke="#2f6b4b" stroke-width="0.9" />
<line x1="63.90" y1="694.47" x2="68.50" y2="694.47" stroke="#2f6b4b" stroke-width="0.9" />
<line x1="85.00" y1="683.55" x2="85.00" y2="689.70" stroke="#f0a020" stroke-width="0.9" />
<line x1="82.70" y1="683.55" x2="87.30" y2="683.55" stroke="#f0a020" stroke-width="0.9" />
<line x1="82.70" y1="689.70" x2="87.30" y2="689.70" stroke="#f0a020" stroke-width="0.9" />
<line x1="94.72" y1="691.24" x2="94.72" y2="703.54" stroke="#f0a020" stroke-width="0.9" />
<line x1="92.42" y1="691.24" x2="97.02" y2="691.24" stroke="#f0a020" stroke-width="0.9" />
<line x1="92.42" y1="703.54" x2="97.02" y2="703.54" stroke="#f0a020" stroke-width="0.9" />
<line x1="105.25" y1="676.79" x2="105.25" y2="682.94" stroke="#f0a020" stroke-width="0.9" />
<line x1="102.95" y1="676.79" x2="107.55" y2="676.79" stroke="#f0a020" stroke-width="0.9" />
<line x1="102.95" y1="682.94" x2="107.55" y2="682.94" stroke="#f0a020" stroke-width="0.9" />
<line x1="114.97" y1="616.69" x2="114.97" y2="632.06" stroke="#f0a020" stroke-width="0.9" />
<line x1="112.67" y1="616.69" x2="117.27" y2="616.69" stroke="#f0a020" stroke-width="0.9" />
<line x1="112.67" y1="632.06" x2="117.27" y2="632.06" stroke="#f0a020" stroke-width="0.9" />
<line x1="125.50" y1="594.56" x2="125.50" y2="600.71" stroke="#f0a020" stroke-width="0.9" />
<line x1="123.20" y1="594.56" x2="127.80" y2="594.56" stroke="#f0a020" stroke-width="0.9" />
<line x1="123.20" y1="600.71" x2="127.80" y2="600.71" stroke="#f0a020" stroke-width="0.9" />
<line x1="135.22" y1="594.56" x2="135.22" y2="600.71" stroke="#f0a020" stroke-width="0.9" />
<line x1="132.92" y1="594.56" x2="137.52" y2="594.56" stroke="#f0a020" stroke-width="0.9" />
<line x1="132.92" y1="600.71" x2="137.52" y2="600.71" stroke="#f0a020" stroke-width="0.9" />
<line x1="66.20" y1="682.94" x2="66.20" y2="693.70" stroke="#f0a020" stroke-width="0.9" />
<line x1="63.90" y1="682.94" x2="68.50" y2="682.94" stroke="#f0a020" stroke-width="0.9" />
<line x1="63.90" y1="693.70" x2="68.50" y2="693.70" stroke="#f0a020" stroke-width="0.9" />
<line x1="85.00" y1="671.87" x2="85.00" y2="702.61" stroke="#5a1f72" stroke-width="0.9" />
<line x1="82.70" y1="671.87" x2="87.30" y2="671.87" stroke="#5a1f72" stroke-width="0.9" />
<line x1="82.70" y1="702.61" x2="87.30" y2="702.61" stroke="#5a1f72" stroke-width="0.9" />
<line x1="94.72" y1="682.17" x2="94.72" y2="688.32" stroke="#5a1f72" stroke-width="0.9" />
<line x1="92.42" y1="682.17" x2="97.02" y2="682.17" stroke="#5a1f72" stroke-width="0.9" />
<line x1="92.42" y1="688.32" x2="97.02" y2="688.32" stroke="#5a1f72" stroke-width="0.9" />
<line x1="105.25" y1="621.15" x2="105.25" y2="661.11" stroke="#5a1f72" stroke-width="0.9" />
<line x1="102.95" y1="621.15" x2="107.55" y2="621.15" stroke="#5a1f72" stroke-width="0.9" />
<line x1="102.95" y1="661.11" x2="107.55" y2="661.11" stroke="#5a1f72" stroke-width="0.9" />
<line x1="114.97" y1="596.87" x2="114.97" y2="613.77" stroke="#5a1f72" stroke-width="0.9" />
<line x1="112.67" y1="596.87" x2="117.27" y2="596.87" stroke="#5a1f72" stroke-width="0.9" />
<line x1="112.67" y1="613.77" x2="117.27" y2="613.77" stroke="#5a1f72" stroke-width="0.9" />
<line x1="125.50" y1="594.56" x2="125.50" y2="600.71" stroke="#5a1f72" stroke-width="0.9" />
<line x1="123.20" y1="594.56" x2="127.80" y2="594.56" stroke="#5a1f72" stroke-width="0.9" />
<line x1="123.20" y1="600.71" x2="127.80" y2="600.71" stroke="#5a1f72" stroke-width="0.9" />
<line x1="135.22" y1="597.94" x2="135.22" y2="619.46" stroke="#5a1f72" stroke-width="0.9" />
<line x1="132.92" y1="597.94" x2="137.52" y2="597.94" stroke="#5a1f72" stroke-width="0.9" />
<line x1="132.92" y1="619.46" x2="137.52" y2="619.46" stroke="#5a1f72" stroke-width="0.9" />
<line x1="66.20" y1="679.87" x2="66.20" y2="690.62" stroke="#5a1f72" stroke-width="0.9" />
<line x1="63.90" y1="679.87" x2="68.50" y2="679.87" stroke="#5a1f72" stroke-width="0.9" />
<line x1="63.90" y1="690.62" x2="68.50" y2="690.62" stroke="#5a1f72" stroke-width="0.9" />
<line x1="85.00" y1="672.64" x2="85.00" y2="681.86" stroke="#78c050" stroke-width="0.9" />
<line x1="82.70" y1="672.64" x2="87.30" y2="672.64" stroke="#78c050" stroke-width="0.9" />
<line x1="82.70" y1="681.86" x2="87.30" y2="681.86" stroke="#78c050" stroke-width="0.9" />
<line x1="94.72" y1="664.96" x2="94.72" y2="674.18" stroke="#78c050" stroke-width="0.9" />
<line x1="92.42" y1="664.96" x2="97.02" y2="664.96" stroke="#78c050" stroke-width="0.9" />
<line x1="92.42" y1="674.18" x2="97.02" y2="674.18" stroke="#78c050" stroke-width="0.9" />
<line x1="105.25" y1="589.64" x2="105.25" y2="651.12" stroke="#78c050" stroke-width="0.9" />
<line x1="102.95" y1="589.64" x2="107.55" y2="589.64" stroke="#78c050" stroke-width="0.9" />
<line x1="102.95" y1="651.12" x2="107.55" y2="651.12" stroke="#78c050" stroke-width="0.9" />
<line x1="114.97" y1="590.72" x2="114.97" y2="596.87" stroke="#78c050" stroke-width="0.9" />
<line x1="112.67" y1="590.72" x2="117.27" y2="590.72" stroke="#78c050" stroke-width="0.9" />
<line x1="112.67" y1="596.87" x2="117.27" y2="596.87" stroke="#78c050" stroke-width="0.9" />
<line x1="125.50" y1="590.10" x2="125.50" y2="601.48" stroke="#78c050" stroke-width="0.9" />
<line x1="123.20" y1="590.10" x2="127.80" y2="590.10" stroke="#78c050" stroke-width="0.9" />
<line x1="123.20" y1="601.48" x2="127.80" y2="601.48" stroke="#78c050" stroke-width="0.9" />
<line x1="135.22" y1="599.48" x2="135.22" y2="605.63" stroke="#78c050" stroke-width="0.9" />
<line x1="132.92" y1="599.48" x2="137.52" y2="599.48" stroke="#78c050" stroke-width="0.9" />
<line x1="132.92" y1="605.63" x2="137.52" y2="605.63" stroke="#78c050" stroke-width="0.9" />
<line x1="66.20" y1="674.95" x2="66.20" y2="685.71" stroke="#78c050" stroke-width="0.9" />
<line x1="63.90" y1="674.95" x2="68.50" y2="674.95" stroke="#78c050" stroke-width="0.9" />
<line x1="63.90" y1="685.71" x2="68.50" y2="685.71" stroke="#78c050" stroke-width="0.9" />
<line x1="85.00" y1="674.49" x2="85.00" y2="686.78" stroke="#c0174a" stroke-width="0.9" />
<line x1="82.70" y1="674.49" x2="87.30" y2="674.49" stroke="#c0174a" stroke-width="0.9" />
<line x1="82.70" y1="686.78" x2="87.30" y2="686.78" stroke="#c0174a" stroke-width="0.9" />
<line x1="94.72" y1="636.68" x2="94.72" y2="688.93" stroke="#c0174a" stroke-width="0.9" />
<line x1="92.42" y1="636.68" x2="97.02" y2="636.68" stroke="#c0174a" stroke-width="0.9" />
<line x1="92.42" y1="688.93" x2="97.02" y2="688.93" stroke="#c0174a" stroke-width="0.9" />
<line x1="105.25" y1="626.69" x2="105.25" y2="638.98" stroke="#c0174a" stroke-width="0.9" />
<line x1="102.95" y1="626.69" x2="107.55" y2="626.69" stroke="#c0174a" stroke-width="0.9" />
<line x1="102.95" y1="638.98" x2="107.55" y2="638.98" stroke="#c0174a" stroke-width="0.9" />
<line x1="114.97" y1="588.11" x2="114.97" y2="601.02" stroke="#c0174a" stroke-width="0.9" />
<line x1="112.67" y1="588.11" x2="117.27" y2="588.11" stroke="#c0174a" stroke-width="0.9" />
<line x1="112.67" y1="601.02" x2="117.27" y2="601.02" stroke="#c0174a" stroke-width="0.9" />
<line x1="125.50" y1="592.56" x2="125.50" y2="616.23" stroke="#c0174a" stroke-width="0.9" />
<line x1="123.20" y1="592.56" x2="127.80" y2="592.56" stroke="#c0174a" stroke-width="0.9" />
<line x1="123.20" y1="616.23" x2="127.80" y2="616.23" stroke="#c0174a" stroke-width="0.9" />
<line x1="135.22" y1="587.49" x2="135.22" y2="588.41" stroke="#c0174a" stroke-width="0.9" />
<line x1="132.92" y1="587.49" x2="137.52" y2="587.49" stroke="#c0174a" stroke-width="0.9" />
<line x1="132.92" y1="588.41" x2="137.52" y2="588.41" stroke="#c0174a" stroke-width="0.9" />
<line x1="66.20" y1="677.25" x2="66.20" y2="688.01" stroke="#c0174a" stroke-width="0.9" />
<line x1="63.90" y1="677.25" x2="68.50" y2="677.25" stroke="#c0174a" stroke-width="0.9" />
<line x1="63.90" y1="688.01" x2="68.50" y2="688.01" stroke="#c0174a" stroke-width="0.9" />
<line x1="67.70" y1="692.16" x2="73.40" y2="692.16" stroke="#9a90d8" stroke-width="1.4" />
<path d="M85.00,688.63 L94.72,689.86 L105.25,692.78 L114.97,690.62 L125.50,690.62 L135.22,684.32" fill="none" stroke="#9a90d8" stroke-width="1.45"/>
<line x1="67.70" y1="691.55" x2="73.40" y2="691.55" stroke="#2f6b4b" stroke-width="1.4" />
<path d="M85.00,692.16 L85.63,692.16 L86.26,692.16 L86.88,692.16 L87.51,692.16 L88.14,692.16 L88.77,692.16 L89.39,692.15 L90.02,692.15 L90.65,692.15 L91.28,692.15 L91.91,692.15 L92.53,692.14 L93.16,692.14 L93.79,692.14 L94.42,692.13 L95.04,692.13 L95.67,692.12 L96.30,692.11 L96.93,692.10 L97.56,692.09 L98.18,692.07 L98.81,692.06 L99.44,692.04 L100.07,692.01 L100.69,691.98 L101.32,691.95 L101.95,691.91 L102.58,691.86 L103.20,691.80 L103.83,691.73 L104.46,691.64 L105.09,691.54 L105.72,691.42 L106.34,691.28 L106.97,691.11 L107.60,690.91 L108.23,690.67 L108.85,690.38 L109.48,690.05 L110.11,689.64 L110.74,689.17 L111.37,688.61 L111.99,687.95 L112.62,687.17 L113.25,686.26 L113.88,685.20 L114.50,683.97 L115.13,682.55 L115.76,680.92 L116.39,679.05 L117.02,676.94 L117.64,674.57 L118.27,671.93 L118.90,669.03 L119.53,665.88 L120.15,662.50 L120.78,658.92 L121.41,655.19 L122.04,651.36 L122.67,647.49 L123.29,643.64 L123.92,639.87 L124.55,636.23 L125.18,632.78 L125.80,629.54 L126.43,626.55 L127.06,623.82 L127.69,621.36 L128.31,619.15 L128.94,617.20 L129.57,615.49 L130.20,613.99 L130.83,612.69 L131.45,611.58 L132.08,610.62 L132.71,609.80 L133.34,609.10 L133.96,608.50 L134.59,608.00 L135.22,607.57" fill="none" stroke="#2f6b4b" stroke-width="1.45"/>
<line x1="67.70" y1="690.16" x2="73.40" y2="690.16" stroke="#f0a020" stroke-width="1.4" />
<path d="M85.00,691.36 L85.63,691.36 L86.26,691.35 L86.88,691.34 L87.51,691.33 L88.14,691.32 L88.77,691.31 L89.39,691.29 L90.02,691.27 L90.65,691.25 L91.28,691.22 L91.91,691.19 L92.53,691.15 L93.16,691.10 L93.79,691.04 L94.42,690.97 L95.04,690.89 L95.67,690.79 L96.30,690.67 L96.93,690.54 L97.56,690.37 L98.18,690.17 L98.81,689.94 L99.44,689.66 L100.07,689.33 L100.69,688.93 L101.32,688.47 L101.95,687.92 L102.58,687.27 L103.20,686.51 L103.83,685.62 L104.46,684.57 L105.09,683.35 L105.72,681.94 L106.34,680.32 L106.97,678.46 L107.60,676.35 L108.23,673.96 L108.85,671.30 L109.48,668.35 L110.11,665.13 L110.74,661.66 L111.37,657.95 L111.99,654.07 L112.62,650.04 L113.25,645.95 L113.88,641.84 L114.50,637.79 L115.13,633.85 L115.76,630.08 L116.39,626.53 L117.02,623.22 L117.64,620.19 L118.27,617.43 L118.90,614.96 L119.53,612.76 L120.15,610.82 L120.78,609.12 L121.41,607.64 L122.04,606.37 L122.67,605.27 L123.29,604.33 L123.92,603.53 L124.55,602.84 L125.18,602.26 L125.80,601.77 L126.43,601.36 L127.06,601.01 L127.69,600.71 L128.31,600.46 L128.94,600.26 L129.57,600.08 L130.20,599.93 L130.83,599.81 L131.45,599.71 L132.08,599.62 L132.71,599.55 L133.34,599.49 L133.96,599.44 L134.59,599.39 L135.22,599.36" fill="none" stroke="#f0a020" stroke-width="1.45"/>
<line x1="67.70" y1="686.47" x2="73.40" y2="686.47" stroke="#5a1f72" stroke-width="1.4" />
<path d="M85.00,687.49 L85.63,687.48 L86.26,687.46 L86.88,687.44 L87.51,687.41 L88.14,687.38 L88.77,687.33 L89.39,687.28 L90.02,687.22 L90.65,687.14 L91.28,687.04 L91.91,686.92 L92.53,686.78 L93.16,686.59 L93.79,686.37 L94.42,686.09 L95.04,685.75 L95.67,685.33 L96.30,684.82 L96.93,684.19 L97.56,683.43 L98.18,682.50 L98.81,681.38 L99.44,680.04 L100.07,678.44 L100.69,676.55 L101.32,674.33 L101.95,671.76 L102.58,668.83 L103.20,665.52 L103.83,661.86 L104.46,657.88 L105.09,653.64 L105.72,649.21 L106.34,644.70 L106.97,640.20 L107.60,635.81 L108.23,631.63 L108.85,627.73 L109.48,624.15 L110.11,620.94 L110.74,618.10 L111.37,615.63 L111.99,613.50 L112.62,611.69 L113.25,610.16 L113.88,608.87 L114.50,607.81 L115.13,606.93 L115.76,606.20 L116.39,605.61 L117.02,605.12 L117.64,604.72 L118.27,604.40 L118.90,604.14 L119.53,603.92 L120.15,603.75 L120.78,603.61 L121.41,603.49 L122.04,603.40 L122.67,603.33 L123.29,603.27 L123.92,603.22 L124.55,603.18 L125.18,603.15 L125.80,603.12 L126.43,603.10 L127.06,603.09 L127.69,603.07 L128.31,603.06 L128.94,603.05 L129.57,603.05 L130.20,603.04 L130.83,603.03 L131.45,603.03 L132.08,603.03 L132.71,603.03 L133.34,603.02 L133.96,603.02 L134.59,603.02 L135.22,603.02" fill="none" stroke="#5a1f72" stroke-width="1.45"/>
<line x1="67.70" y1="678.79" x2="73.40" y2="678.79" stroke="#78c050" stroke-width="1.4" />
<path d="M85.00,679.95 L85.63,679.84 L86.26,679.70 L86.88,679.55 L87.51,679.37 L88.14,679.15 L88.77,678.91 L89.39,678.62 L90.02,678.29 L90.65,677.90 L91.28,677.45 L91.91,676.94 L92.53,676.34 L93.16,675.65 L93.79,674.86 L94.42,673.96 L95.04,672.93 L95.67,671.76 L96.30,670.43 L96.93,668.94 L97.56,667.26 L98.18,665.40 L98.81,663.34 L99.44,661.07 L100.07,658.62 L100.69,655.96 L101.32,653.13 L101.95,650.14 L102.58,647.02 L103.20,643.80 L103.83,640.51 L104.46,637.19 L105.09,633.89 L105.72,630.64 L106.34,627.48 L106.97,624.45 L107.60,621.57 L108.23,618.87 L108.85,616.35 L109.48,614.03 L110.11,611.91 L110.74,609.99 L111.37,608.27 L111.99,606.72 L112.62,605.34 L113.25,604.13 L113.88,603.06 L114.50,602.12 L115.13,601.30 L115.76,600.58 L116.39,599.96 L117.02,599.42 L117.64,598.95 L118.27,598.55 L118.90,598.20 L119.53,597.90 L120.15,597.65 L120.78,597.43 L121.41,597.24 L122.04,597.07 L122.67,596.93 L123.29,596.81 L123.92,596.71 L124.55,596.62 L125.18,596.55 L125.80,596.48 L126.43,596.43 L127.06,596.38 L127.69,596.34 L128.31,596.30 L128.94,596.27 L129.57,596.25 L130.20,596.23 L130.83,596.21 L131.45,596.19 L132.08,596.18 L132.71,596.17 L133.34,596.16 L133.96,596.15 L134.59,596.14 L135.22,596.14" fill="none" stroke="#78c050" stroke-width="1.45"/>
<line x1="67.70" y1="681.86" x2="73.40" y2="681.86" stroke="#c0174a" stroke-width="1.4" />
<path d="M85.00,683.32 L85.63,683.06 L86.26,682.77 L86.88,682.44 L87.51,682.07 L88.14,681.65 L88.77,681.18 L89.39,680.66 L90.02,680.06 L90.65,679.40 L91.28,678.66 L91.91,677.83 L92.53,676.91 L93.16,675.88 L93.79,674.75 L94.42,673.50 L95.04,672.13 L95.67,670.63 L96.30,668.99 L96.93,667.21 L97.56,665.29 L98.18,663.23 L98.81,661.03 L99.44,658.70 L100.07,656.24 L100.69,653.68 L101.32,651.01 L101.95,648.26 L102.58,645.46 L103.20,642.61 L103.83,639.75 L104.46,636.89 L105.09,634.07 L105.72,631.30 L106.34,628.60 L106.97,626.00 L107.60,623.50 L108.23,621.13 L108.85,618.88 L109.48,616.77 L110.11,614.80 L110.74,612.97 L111.37,611.28 L111.99,609.73 L112.62,608.31 L113.25,607.02 L113.88,605.85 L114.50,604.79 L115.13,603.83 L115.76,602.97 L116.39,602.20 L117.02,601.51 L117.64,600.89 L118.27,600.34 L118.90,599.85 L119.53,599.42 L120.15,599.03 L120.78,598.69 L121.41,598.38 L122.04,598.11 L122.67,597.87 L123.29,597.66 L123.92,597.48 L124.55,597.31 L125.18,597.17 L125.80,597.04 L126.43,596.93 L127.06,596.83 L127.69,596.74 L128.31,596.67 L128.94,596.60 L129.57,596.54 L130.20,596.49 L130.83,596.44 L131.45,596.40 L132.08,596.36 L132.71,596.33 L133.34,596.30 L133.96,596.28 L134.59,596.26 L135.22,596.24" fill="none" stroke="#c0174a" stroke-width="1.45"/>
<circle cx="66.20" cy="689.86" r="2.2" fill="#aaa2e2" stroke="#111" stroke-width="1.1"/>
<circle cx="85.00" cy="688.63" r="2.2" fill="#aaa2e2" stroke="#111" stroke-width="1.1"/>
<circle cx="94.72" cy="689.86" r="2.2" fill="#aaa2e2" stroke="#111" stroke-width="1.1"/>
<circle cx="105.25" cy="692.78" r="2.2" fill="#aaa2e2" stroke="#111" stroke-width="1.1"/>
<circle cx="114.97" cy="690.62" r="2.2" fill="#aaa2e2" stroke="#111" stroke-width="1.1"/>
<circle cx="125.50" cy="690.62" r="2.2" fill="#aaa2e2" stroke="#111" stroke-width="1.1"/>
<circle cx="135.22" cy="684.32" r="2.2" fill="#aaa2e2" stroke="#111" stroke-width="1.1"/>
<circle cx="66.20" cy="689.09" r="2.2" fill="#3b7a5a" stroke="#111" stroke-width="1.1"/>
<circle cx="85.00" cy="688.63" r="2.2" fill="#3b7a5a" stroke="#111" stroke-width="1.1"/>
<circle cx="94.72" cy="692.78" r="2.2" fill="#3b7a5a" stroke="#111" stroke-width="1.1"/>
<circle cx="105.25" cy="696.47" r="2.2" fill="#3b7a5a" stroke="#111" stroke-width="1.1"/>
<circle cx="114.97" cy="680.33" r="2.2" fill="#3b7a5a" stroke="#111" stroke-width="1.1"/>
<circle cx="125.50" cy="625.30" r="2.2" fill="#3b7a5a" stroke="#111" stroke-width="1.1"/>
<circle cx="135.22" cy="605.63" r="2.2" fill="#3b7a5a" stroke="#111" stroke-width="1.1"/>
<circle cx="66.20" cy="688.32" r="2.2" fill="#f5a623" stroke="#111" stroke-width="1.1"/>
<circle cx="85.00" cy="686.63" r="2.2" fill="#f5a623" stroke="#111" stroke-width="1.1"/>
<circle cx="94.72" cy="697.39" r="2.2" fill="#f5a623" stroke="#111" stroke-width="1.1"/>
<circle cx="105.25" cy="679.87" r="2.2" fill="#f5a623" stroke="#111" stroke-width="1.1"/>
<circle cx="114.97" cy="624.38" r="2.2" fill="#f5a623" stroke="#111" stroke-width="1.1"/>
<circle cx="125.50" cy="597.64" r="2.2" fill="#f5a623" stroke="#111" stroke-width="1.1"/>
<circle cx="135.22" cy="597.64" r="2.2" fill="#f5a623" stroke="#111" stroke-width="1.1"/>
<circle cx="66.20" cy="685.25" r="2.2" fill="#6b2a82" stroke="#111" stroke-width="1.1"/>
<circle cx="85.00" cy="687.24" r="2.2" fill="#6b2a82" stroke="#111" stroke-width="1.1"/>
<circle cx="94.72" cy="685.25" r="2.2" fill="#6b2a82" stroke="#111" stroke-width="1.1"/>
<circle cx="105.25" cy="641.13" r="2.2" fill="#6b2a82" stroke="#111" stroke-width="1.1"/>
<circle cx="114.97" cy="605.32" r="2.2" fill="#6b2a82" stroke="#111" stroke-width="1.1"/>
<circle cx="125.50" cy="597.64" r="2.2" fill="#6b2a82" stroke="#111" stroke-width="1.1"/>
<circle cx="135.22" cy="608.70" r="2.2" fill="#6b2a82" stroke="#111" stroke-width="1.1"/>
<circle cx="66.20" cy="680.33" r="2.2" fill="#6cc04a" stroke="#111" stroke-width="1.1"/>
<circle cx="85.00" cy="677.25" r="2.2" fill="#6cc04a" stroke="#111" stroke-width="1.1"/>
<circle cx="94.72" cy="669.57" r="2.2" fill="#6cc04a" stroke="#111" stroke-width="1.1"/>
<circle cx="105.25" cy="620.38" r="2.2" fill="#6cc04a" stroke="#111" stroke-width="1.1"/>
<circle cx="114.97" cy="593.79" r="2.2" fill="#6cc04a" stroke="#111" stroke-width="1.1"/>
<circle cx="125.50" cy="595.79" r="2.2" fill="#6cc04a" stroke="#111" stroke-width="1.1"/>
<circle cx="135.22" cy="602.55" r="2.2" fill="#6cc04a" stroke="#111" stroke-width="1.1"/>
<circle cx="66.20" cy="682.63" r="2.2" fill="#cf1040" stroke="#111" stroke-width="1.1"/>
<circle cx="85.00" cy="680.63" r="2.2" fill="#cf1040" stroke="#111" stroke-width="1.1"/>
<circle cx="94.72" cy="662.80" r="2.2" fill="#cf1040" stroke="#111" stroke-width="1.1"/>
<circle cx="105.25" cy="632.83" r="2.2" fill="#cf1040" stroke="#111" stroke-width="1.1"/>
<circle cx="114.97" cy="594.56" r="2.2" fill="#cf1040" stroke="#111" stroke-width="1.1"/>
<circle cx="125.50" cy="604.40" r="2.2" fill="#cf1040" stroke="#111" stroke-width="1.1"/>
<circle cx="135.22" cy="587.95" r="2.2" fill="#cf1040" stroke="#111" stroke-width="1.1"/>
<line x1="261.80" y1="682.07" x2="261.80" y2="688.22" stroke="#9a90d8" stroke-width="0.9" />
<line x1="259.50" y1="682.07" x2="264.10" y2="682.07" stroke="#9a90d8" stroke-width="0.9" />
<line x1="259.50" y1="688.22" x2="264.10" y2="688.22" stroke="#9a90d8" stroke-width="0.9" />
<line x1="271.50" y1="697.44" x2="271.50" y2="706.66" stroke="#9a90d8" stroke-width="0.9" />
<line x1="269.20" y1="697.44" x2="273.80" y2="697.44" stroke="#9a90d8" stroke-width="0.9" />
<line x1="269.20" y1="706.66" x2="273.80" y2="706.66" stroke="#9a90d8" stroke-width="0.9" />
<line x1="282.00" y1="691.60" x2="282.00" y2="706.97" stroke="#9a90d8" stroke-width="0.9" />
<line x1="279.70" y1="691.60" x2="284.30" y2="691.60" stroke="#9a90d8" stroke-width="0.9" />
<line x1="279.70" y1="706.97" x2="284.30" y2="706.97" stroke="#9a90d8" stroke-width="0.9" />
<line x1="291.70" y1="675.92" x2="291.70" y2="706.66" stroke="#9a90d8" stroke-width="0.9" />
<line x1="289.40" y1="675.92" x2="294.00" y2="675.92" stroke="#9a90d8" stroke-width="0.9" />
<line x1="289.40" y1="706.66" x2="294.00" y2="706.66" stroke="#9a90d8" stroke-width="0.9" />
<line x1="302.20" y1="693.91" x2="302.20" y2="700.05" stroke="#9a90d8" stroke-width="0.9" />
<line x1="299.90" y1="693.91" x2="304.50" y2="693.91" stroke="#9a90d8" stroke-width="0.9" />
<line x1="299.90" y1="700.05" x2="304.50" y2="700.05" stroke="#9a90d8" stroke-width="0.9" />
<line x1="311.90" y1="694.21" x2="311.90" y2="706.51" stroke="#9a90d8" stroke-width="0.9" />
<line x1="309.60" y1="694.21" x2="314.20" y2="694.21" stroke="#9a90d8" stroke-width="0.9" />
<line x1="309.60" y1="706.51" x2="314.20" y2="706.51" stroke="#9a90d8" stroke-width="0.9" />
<line x1="242.80" y1="682.69" x2="242.80" y2="693.44" stroke="#9a90d8" stroke-width="0.9" />
<line x1="240.50" y1="682.69" x2="245.10" y2="682.69" stroke="#9a90d8" stroke-width="0.9" />
<line x1="240.50" y1="693.44" x2="245.10" y2="693.44" stroke="#9a90d8" stroke-width="0.9" />
<line x1="261.80" y1="677.92" x2="261.80" y2="687.14" stroke="#2f6b4b" stroke-width="0.9" />
<line x1="259.50" y1="677.92" x2="264.10" y2="677.92" stroke="#2f6b4b" stroke-width="0.9" />
<line x1="259.50" y1="687.14" x2="264.10" y2="687.14" stroke="#2f6b4b" stroke-width="0.9" />
<line x1="271.50" y1="690.68" x2="271.50" y2="699.90" stroke="#2f6b4b" stroke-width="0.9" />
<line x1="269.20" y1="690.68" x2="273.80" y2="690.68" stroke="#2f6b4b" stroke-width="0.9" />
<line x1="269.20" y1="699.90" x2="273.80" y2="699.90" stroke="#2f6b4b" stroke-width="0.9" />
<line x1="282.00" y1="680.69" x2="282.00" y2="686.84" stroke="#2f6b4b" stroke-width="0.9" />
<line x1="279.70" y1="680.69" x2="284.30" y2="680.69" stroke="#2f6b4b" stroke-width="0.9" />
<line x1="279.70" y1="686.84" x2="284.30" y2="686.84" stroke="#2f6b4b" stroke-width="0.9" />
<line x1="291.70" y1="688.83" x2="291.70" y2="694.98" stroke="#2f6b4b" stroke-width="0.9" />
<line x1="289.40" y1="688.83" x2="294.00" y2="688.83" stroke="#2f6b4b" stroke-width="0.9" />
<line x1="289.40" y1="694.98" x2="294.00" y2="694.98" stroke="#2f6b4b" stroke-width="0.9" />
<line x1="302.20" y1="679.92" x2="302.20" y2="689.14" stroke="#2f6b4b" stroke-width="0.9" />
<line x1="299.90" y1="679.92" x2="304.50" y2="679.92" stroke="#2f6b4b" stroke-width="0.9" />
<line x1="299.90" y1="689.14" x2="304.50" y2="689.14" stroke="#2f6b4b" stroke-width="0.9" />
<line x1="311.90" y1="688.68" x2="311.90" y2="697.90" stroke="#2f6b4b" stroke-width="0.9" />
<line x1="309.60" y1="688.68" x2="314.20" y2="688.68" stroke="#2f6b4b" stroke-width="0.9" />
<line x1="309.60" y1="697.90" x2="314.20" y2="697.90" stroke="#2f6b4b" stroke-width="0.9" />
<line x1="242.80" y1="680.69" x2="242.80" y2="691.45" stroke="#2f6b4b" stroke-width="0.9" />
<line x1="240.50" y1="680.69" x2="245.10" y2="680.69" stroke="#2f6b4b" stroke-width="0.9" />
<line x1="240.50" y1="691.45" x2="245.10" y2="691.45" stroke="#2f6b4b" stroke-width="0.9" />
<line x1="261.80" y1="678.54" x2="261.80" y2="703.13" stroke="#f0a020" stroke-width="0.9" />
<line x1="259.50" y1="678.54" x2="264.10" y2="678.54" stroke="#f0a020" stroke-width="0.9" />
<line x1="259.50" y1="703.13" x2="264.10" y2="703.13" stroke="#f0a020" stroke-width="0.9" />
<line x1="271.50" y1="675.46" x2="271.50" y2="706.20" stroke="#f0a020" stroke-width="0.9" />
<line x1="269.20" y1="675.46" x2="273.80" y2="675.46" stroke="#f0a020" stroke-width="0.9" />
<line x1="269.20" y1="706.20" x2="273.80" y2="706.20" stroke="#f0a020" stroke-width="0.9" />
<line x1="282.00" y1="686.68" x2="282.00" y2="695.90" stroke="#f0a020" stroke-width="0.9" />
<line x1="279.70" y1="686.68" x2="284.30" y2="686.68" stroke="#f0a020" stroke-width="0.9" />
<line x1="279.70" y1="695.90" x2="284.30" y2="695.90" stroke="#f0a020" stroke-width="0.9" />
<line x1="291.70" y1="688.83" x2="291.70" y2="694.98" stroke="#f0a020" stroke-width="0.9" />
<line x1="289.40" y1="688.83" x2="294.00" y2="688.83" stroke="#f0a020" stroke-width="0.9" />
<line x1="289.40" y1="694.98" x2="294.00" y2="694.98" stroke="#f0a020" stroke-width="0.9" />
<line x1="302.20" y1="665.93" x2="302.20" y2="684.38" stroke="#f0a020" stroke-width="0.9" />
<line x1="299.90" y1="665.93" x2="304.50" y2="665.93" stroke="#f0a020" stroke-width="0.9" />
<line x1="299.90" y1="684.38" x2="304.50" y2="684.38" stroke="#f0a020" stroke-width="0.9" />
<line x1="311.90" y1="681.46" x2="311.90" y2="687.60" stroke="#f0a020" stroke-width="0.9" />
<line x1="309.60" y1="681.46" x2="314.20" y2="681.46" stroke="#f0a020" stroke-width="0.9" />
<line x1="309.60" y1="687.60" x2="314.20" y2="687.60" stroke="#f0a020" stroke-width="0.9" />
<line x1="242.80" y1="683.61" x2="242.80" y2="694.37" stroke="#f0a020" stroke-width="0.9" />
<line x1="240.50" y1="683.61" x2="245.10" y2="683.61" stroke="#f0a020" stroke-width="0.9" />
<line x1="240.50" y1="694.37" x2="245.10" y2="694.37" stroke="#f0a020" stroke-width="0.9" />
<line x1="261.80" y1="677.77" x2="261.80" y2="683.92" stroke="#5a1f72" stroke-width="0.9" />
<line x1="259.50" y1="677.77" x2="264.10" y2="677.77" stroke="#5a1f72" stroke-width="0.9" />
<line x1="259.50" y1="683.92" x2="264.10" y2="683.92" stroke="#5a1f72" stroke-width="0.9" />
<line x1="271.50" y1="675.62" x2="271.50" y2="681.76" stroke="#5a1f72" stroke-width="0.9" />
<line x1="269.20" y1="675.62" x2="273.80" y2="675.62" stroke="#5a1f72" stroke-width="0.9" />
<line x1="269.20" y1="681.76" x2="273.80" y2="681.76" stroke="#5a1f72" stroke-width="0.9" />
<line x1="282.00" y1="678.38" x2="282.00" y2="684.53" stroke="#5a1f72" stroke-width="0.9" />
<line x1="279.70" y1="678.38" x2="284.30" y2="678.38" stroke="#5a1f72" stroke-width="0.9" />
<line x1="279.70" y1="684.53" x2="284.30" y2="684.53" stroke="#5a1f72" stroke-width="0.9" />
<line x1="291.70" y1="629.97" x2="291.70" y2="685.30" stroke="#5a1f72" stroke-width="0.9" />
<line x1="289.40" y1="629.97" x2="294.00" y2="629.97" stroke="#5a1f72" stroke-width="0.9" />
<line x1="289.40" y1="685.30" x2="294.00" y2="685.30" stroke="#5a1f72" stroke-width="0.9" />
<line x1="302.20" y1="582.78" x2="302.20" y2="627.66" stroke="#5a1f72" stroke-width="0.9" />
<line x1="299.90" y1="582.78" x2="304.50" y2="582.78" stroke="#5a1f72" stroke-width="0.9" />
<line x1="299.90" y1="627.66" x2="304.50" y2="627.66" stroke="#5a1f72" stroke-width="0.9" />
<line x1="311.90" y1="603.99" x2="311.90" y2="614.75" stroke="#5a1f72" stroke-width="0.9" />
<line x1="309.60" y1="603.99" x2="314.20" y2="603.99" stroke="#5a1f72" stroke-width="0.9" />
<line x1="309.60" y1="614.75" x2="314.20" y2="614.75" stroke="#5a1f72" stroke-width="0.9" />
<line x1="242.80" y1="678.69" x2="242.80" y2="689.45" stroke="#5a1f72" stroke-width="0.9" />
<line x1="240.50" y1="678.69" x2="245.10" y2="678.69" stroke="#5a1f72" stroke-width="0.9" />
<line x1="240.50" y1="689.45" x2="245.10" y2="689.45" stroke="#5a1f72" stroke-width="0.9" />
<line x1="261.80" y1="674.69" x2="261.80" y2="680.84" stroke="#78c050" stroke-width="0.9" />
<line x1="259.50" y1="674.69" x2="264.10" y2="674.69" stroke="#78c050" stroke-width="0.9" />
<line x1="259.50" y1="680.84" x2="264.10" y2="680.84" stroke="#78c050" stroke-width="0.9" />
<line x1="271.50" y1="663.32" x2="271.50" y2="672.54" stroke="#78c050" stroke-width="0.9" />
<line x1="269.20" y1="663.32" x2="273.80" y2="663.32" stroke="#78c050" stroke-width="0.9" />
<line x1="269.20" y1="672.54" x2="273.80" y2="672.54" stroke="#78c050" stroke-width="0.9" />
<line x1="282.00" y1="619.36" x2="282.00" y2="665.47" stroke="#78c050" stroke-width="0.9" />
<line x1="279.70" y1="619.36" x2="284.30" y2="619.36" stroke="#78c050" stroke-width="0.9" />
<line x1="279.70" y1="665.47" x2="284.30" y2="665.47" stroke="#78c050" stroke-width="0.9" />
<line x1="291.70" y1="590.00" x2="291.70" y2="596.15" stroke="#78c050" stroke-width="0.9" />
<line x1="289.40" y1="590.00" x2="294.00" y2="590.00" stroke="#78c050" stroke-width="0.9" />
<line x1="289.40" y1="596.15" x2="294.00" y2="596.15" stroke="#78c050" stroke-width="0.9" />
<line x1="302.20" y1="586.78" x2="302.20" y2="602.15" stroke="#78c050" stroke-width="0.9" />
<line x1="299.90" y1="586.78" x2="304.50" y2="586.78" stroke="#78c050" stroke-width="0.9" />
<line x1="299.90" y1="602.15" x2="304.50" y2="602.15" stroke="#78c050" stroke-width="0.9" />
<line x1="311.90" y1="590.31" x2="311.90" y2="599.53" stroke="#78c050" stroke-width="0.9" />
<line x1="309.60" y1="590.31" x2="314.20" y2="590.31" stroke="#78c050" stroke-width="0.9" />
<line x1="309.60" y1="599.53" x2="314.20" y2="599.53" stroke="#78c050" stroke-width="0.9" />
<line x1="242.80" y1="675.92" x2="242.80" y2="686.68" stroke="#78c050" stroke-width="0.9" />
<line x1="240.50" y1="675.92" x2="245.10" y2="675.92" stroke="#78c050" stroke-width="0.9" />
<line x1="240.50" y1="686.68" x2="245.10" y2="686.68" stroke="#78c050" stroke-width="0.9" />
<line x1="261.80" y1="669.16" x2="261.80" y2="678.38" stroke="#c0174a" stroke-width="0.9" />
<line x1="259.50" y1="669.16" x2="264.10" y2="669.16" stroke="#c0174a" stroke-width="0.9" />
<line x1="259.50" y1="678.38" x2="264.10" y2="678.38" stroke="#c0174a" stroke-width="0.9" />
<line x1="271.50" y1="634.12" x2="271.50" y2="680.23" stroke="#c0174a" stroke-width="0.9" />
<line x1="269.20" y1="634.12" x2="273.80" y2="634.12" stroke="#c0174a" stroke-width="0.9" />
<line x1="269.20" y1="680.23" x2="273.80" y2="680.23" stroke="#c0174a" stroke-width="0.9" />
<line x1="282.00" y1="613.52" x2="282.00" y2="644.26" stroke="#c0174a" stroke-width="0.9" />
<line x1="279.70" y1="613.52" x2="284.30" y2="613.52" stroke="#c0174a" stroke-width="0.9" />
<line x1="279.70" y1="644.26" x2="284.30" y2="644.26" stroke="#c0174a" stroke-width="0.9" />
<line x1="291.70" y1="580.63" x2="291.70" y2="588.31" stroke="#c0174a" stroke-width="0.9" />
<line x1="289.40" y1="580.63" x2="294.00" y2="580.63" stroke="#c0174a" stroke-width="0.9" />
<line x1="289.40" y1="588.31" x2="294.00" y2="588.31" stroke="#c0174a" stroke-width="0.9" />
<line x1="302.20" y1="582.01" x2="302.20" y2="585.09" stroke="#c0174a" stroke-width="0.9" />
<line x1="299.90" y1="582.01" x2="304.50" y2="582.01" stroke="#c0174a" stroke-width="0.9" />
<line x1="299.90" y1="585.09" x2="304.50" y2="585.09" stroke="#c0174a" stroke-width="0.9" />
<line x1="311.90" y1="584.93" x2="311.90" y2="589.54" stroke="#c0174a" stroke-width="0.9" />
<line x1="309.60" y1="584.93" x2="314.20" y2="584.93" stroke="#c0174a" stroke-width="0.9" />
<line x1="309.60" y1="589.54" x2="314.20" y2="589.54" stroke="#c0174a" stroke-width="0.9" />
<line x1="242.80" y1="673.77" x2="242.80" y2="684.53" stroke="#c0174a" stroke-width="0.9" />
<line x1="240.50" y1="673.77" x2="245.10" y2="673.77" stroke="#c0174a" stroke-width="0.9" />
<line x1="240.50" y1="684.53" x2="245.10" y2="684.53" stroke="#c0174a" stroke-width="0.9" />
<line x1="244.30" y1="689.76" x2="250.00" y2="689.76" stroke="#9a90d8" stroke-width="1.4" />
<path d="M261.80,685.15 L271.50,702.05 L282.00,699.29 L291.70,691.29 L302.20,696.98 L311.90,700.36" fill="none" stroke="#9a90d8" stroke-width="1.45"/>
<line x1="244.30" y1="682.69" x2="250.00" y2="682.69" stroke="#2f6b4b" stroke-width="1.4" />
<path d="M261.80,682.53 L271.50,695.29 L282.00,683.76 L291.70,691.91 L302.20,684.53 L311.90,693.29" fill="none" stroke="#2f6b4b" stroke-width="1.45"/>
<line x1="244.30" y1="688.37" x2="250.00" y2="688.37" stroke="#f0a020" stroke-width="1.4" />
<path d="M261.80,690.83 L271.50,690.83 L282.00,691.29 L291.70,691.91 L302.20,675.15 L311.90,684.53" fill="none" stroke="#f0a020" stroke-width="1.45"/>
<line x1="244.30" y1="681.46" x2="250.00" y2="681.46" stroke="#5a1f72" stroke-width="1.4" />
<path d="M261.80,681.30 L262.43,681.30 L263.05,681.30 L263.68,681.30 L264.30,681.30 L264.93,681.30 L265.56,681.30 L266.18,681.30 L266.81,681.30 L267.44,681.30 L268.06,681.30 L268.69,681.30 L269.31,681.30 L269.94,681.30 L270.57,681.30 L271.19,681.30 L271.82,681.30 L272.45,681.30 L273.07,681.29 L273.70,681.29 L274.32,681.29 L274.95,681.28 L275.58,681.28 L276.20,681.27 L276.83,681.26 L277.46,681.24 L278.08,681.22 L278.71,681.20 L279.33,681.16 L279.96,681.12 L280.59,681.06 L281.21,680.98 L281.84,680.87 L282.46,680.73 L283.09,680.54 L283.72,680.29 L284.34,679.96 L284.97,679.52 L285.60,678.96 L286.22,678.21 L286.85,677.25 L287.47,676.00 L288.10,674.41 L288.73,672.41 L289.35,669.92 L289.98,666.88 L290.61,663.27 L291.23,659.08 L291.86,654.39 L292.48,649.32 L293.11,644.03 L293.74,638.75 L294.36,633.67 L294.99,628.98 L295.61,624.79 L296.24,621.18 L296.87,618.15 L297.49,615.65 L298.12,613.65 L298.75,612.06 L299.37,610.81 L300.00,609.85 L300.62,609.11 L301.25,608.54 L301.88,608.10 L302.50,607.77 L303.13,607.52 L303.76,607.33 L304.38,607.19 L305.01,607.08 L305.63,607.00 L306.26,606.94 L306.89,606.90 L307.51,606.86 L308.14,606.84 L308.76,606.82 L309.39,606.80 L310.02,606.79 L310.64,606.78 L311.27,606.78 L311.90,606.77" fill="none" stroke="#5a1f72" stroke-width="1.45"/>
<line x1="244.30" y1="676.54" x2="250.00" y2="676.54" stroke="#78c050" stroke-width="1.4" />
<path d="M261.80,678.92 L262.43,678.90 L263.05,678.88 L263.68,678.85 L264.30,678.82 L264.93,678.78 L265.56,678.73 L266.18,678.66 L266.81,678.58 L267.44,678.48 L268.06,678.36 L268.69,678.21 L269.31,678.03 L269.94,677.80 L270.57,677.52 L271.19,677.17 L271.82,676.75 L272.45,676.23 L273.07,675.60 L273.70,674.83 L274.32,673.89 L274.95,672.76 L275.58,671.40 L276.20,669.78 L276.83,667.86 L277.46,665.62 L278.08,663.01 L278.71,660.04 L279.33,656.68 L279.96,652.97 L280.59,648.92 L281.21,644.61 L281.84,640.11 L282.46,635.52 L283.09,630.93 L283.72,626.46 L284.34,622.19 L284.97,618.21 L285.60,614.56 L286.22,611.28 L286.85,608.38 L287.47,605.84 L288.10,603.66 L288.73,601.81 L289.35,600.24 L289.98,598.93 L290.61,597.84 L291.23,596.93 L291.86,596.19 L292.48,595.58 L293.11,595.08 L293.74,594.67 L294.36,594.34 L294.99,594.07 L295.61,593.85 L296.24,593.68 L296.87,593.53 L297.49,593.42 L298.12,593.32 L298.75,593.25 L299.37,593.18 L300.00,593.13 L300.62,593.09 L301.25,593.06 L301.88,593.04 L302.50,593.01 L303.13,593.00 L303.76,592.98 L304.38,592.97 L305.01,592.96 L305.63,592.96 L306.26,592.95 L306.89,592.94 L307.51,592.94 L308.14,592.94 L308.76,592.94 L309.39,592.93 L310.02,592.93 L310.64,592.93 L311.27,592.93 L311.90,592.93" fill="none" stroke="#78c050" stroke-width="1.45"/>
<line x1="244.30" y1="675.77" x2="250.00" y2="675.77" stroke="#c0174a" stroke-width="1.4" />
<path d="M261.80,675.64 L262.43,675.39 L263.05,675.12 L263.68,674.80 L264.30,674.45 L264.93,674.05 L265.56,673.61 L266.18,673.10 L266.81,672.53 L267.44,671.90 L268.06,671.19 L268.69,670.39 L269.31,669.50 L269.94,668.51 L270.57,667.42 L271.19,666.20 L271.82,664.86 L272.45,663.39 L273.07,661.78 L273.70,660.02 L274.32,658.12 L274.95,656.06 L275.58,653.85 L276.20,651.50 L276.83,649.00 L277.46,646.37 L278.08,643.62 L278.71,640.77 L279.33,637.83 L279.96,634.83 L280.59,631.79 L281.21,628.73 L281.84,625.68 L282.46,622.66 L283.09,619.70 L283.72,616.82 L284.34,614.04 L284.97,611.37 L285.60,608.84 L286.22,606.44 L286.85,604.19 L287.47,602.09 L288.10,600.14 L288.73,598.34 L289.35,596.69 L289.98,595.18 L290.61,593.80 L291.23,592.55 L291.86,591.42 L292.48,590.40 L293.11,589.48 L293.74,588.66 L294.36,587.93 L294.99,587.27 L295.61,586.68 L296.24,586.16 L296.87,585.70 L297.49,585.28 L298.12,584.92 L298.75,584.60 L299.37,584.31 L300.00,584.06 L300.62,583.83 L301.25,583.63 L301.88,583.46 L302.50,583.31 L303.13,583.17 L303.76,583.05 L304.38,582.94 L305.01,582.85 L305.63,582.77 L306.26,582.70 L306.89,582.63 L307.51,582.58 L308.14,582.53 L308.76,582.48 L309.39,582.45 L310.02,582.41 L310.64,582.38 L311.27,582.36 L311.90,582.33" fill="none" stroke="#c0174a" stroke-width="1.45"/>
<circle cx="242.80" cy="688.07" r="2.2" fill="#aaa2e2" stroke="#111" stroke-width="1.1"/>
<circle cx="261.80" cy="685.15" r="2.2" fill="#aaa2e2" stroke="#111" stroke-width="1.1"/>
<circle cx="271.50" cy="702.05" r="2.2" fill="#aaa2e2" stroke="#111" stroke-width="1.1"/>
<circle cx="282.00" cy="699.29" r="2.2" fill="#aaa2e2" stroke="#111" stroke-width="1.1"/>
<circle cx="291.70" cy="691.29" r="2.2" fill="#aaa2e2" stroke="#111" stroke-width="1.1"/>
<circle cx="302.20" cy="696.98" r="2.2" fill="#aaa2e2" stroke="#111" stroke-width="1.1"/>
<circle cx="311.90" cy="700.36" r="2.2" fill="#aaa2e2" stroke="#111" stroke-width="1.1"/>
<circle cx="242.80" cy="686.07" r="2.2" fill="#3b7a5a" stroke="#111" stroke-width="1.1"/>
<circle cx="261.80" cy="682.53" r="2.2" fill="#3b7a5a" stroke="#111" stroke-width="1.1"/>
<circle cx="271.50" cy="695.29" r="2.2" fill="#3b7a5a" stroke="#111" stroke-width="1.1"/>
<circle cx="282.00" cy="683.76" r="2.2" fill="#3b7a5a" stroke="#111" stroke-width="1.1"/>
<circle cx="291.70" cy="691.91" r="2.2" fill="#3b7a5a" stroke="#111" stroke-width="1.1"/>
<circle cx="302.20" cy="684.53" r="2.2" fill="#3b7a5a" stroke="#111" stroke-width="1.1"/>
<circle cx="311.90" cy="693.29" r="2.2" fill="#3b7a5a" stroke="#111" stroke-width="1.1"/>
<circle cx="242.80" cy="688.99" r="2.2" fill="#f5a623" stroke="#111" stroke-width="1.1"/>
<circle cx="261.80" cy="690.83" r="2.2" fill="#f5a623" stroke="#111" stroke-width="1.1"/>
<circle cx="271.50" cy="690.83" r="2.2" fill="#f5a623" stroke="#111" stroke-width="1.1"/>
<circle cx="282.00" cy="691.29" r="2.2" fill="#f5a623" stroke="#111" stroke-width="1.1"/>
<circle cx="291.70" cy="691.91" r="2.2" fill="#f5a623" stroke="#111" stroke-width="1.1"/>
<circle cx="302.20" cy="675.15" r="2.2" fill="#f5a623" stroke="#111" stroke-width="1.1"/>
<circle cx="311.90" cy="684.53" r="2.2" fill="#f5a623" stroke="#111" stroke-width="1.1"/>
<circle cx="242.80" cy="684.07" r="2.2" fill="#6b2a82" stroke="#111" stroke-width="1.1"/>
<circle cx="261.80" cy="680.84" r="2.2" fill="#6b2a82" stroke="#111" stroke-width="1.1"/>
<circle cx="271.50" cy="678.69" r="2.2" fill="#6b2a82" stroke="#111" stroke-width="1.1"/>
<circle cx="282.00" cy="681.46" r="2.2" fill="#6b2a82" stroke="#111" stroke-width="1.1"/>
<circle cx="291.70" cy="657.63" r="2.2" fill="#6b2a82" stroke="#111" stroke-width="1.1"/>
<circle cx="302.20" cy="605.22" r="2.2" fill="#6b2a82" stroke="#111" stroke-width="1.1"/>
<circle cx="311.90" cy="609.37" r="2.2" fill="#6b2a82" stroke="#111" stroke-width="1.1"/>
<circle cx="242.80" cy="681.30" r="2.2" fill="#6cc04a" stroke="#111" stroke-width="1.1"/>
<circle cx="261.80" cy="677.77" r="2.2" fill="#6cc04a" stroke="#111" stroke-width="1.1"/>
<circle cx="271.50" cy="667.93" r="2.2" fill="#6cc04a" stroke="#111" stroke-width="1.1"/>
<circle cx="282.00" cy="642.42" r="2.2" fill="#6cc04a" stroke="#111" stroke-width="1.1"/>
<circle cx="291.70" cy="593.08" r="2.2" fill="#6cc04a" stroke="#111" stroke-width="1.1"/>
<circle cx="302.20" cy="594.46" r="2.2" fill="#6cc04a" stroke="#111" stroke-width="1.1"/>
<circle cx="311.90" cy="594.92" r="2.2" fill="#6cc04a" stroke="#111" stroke-width="1.1"/>
<circle cx="242.80" cy="679.15" r="2.2" fill="#cf1040" stroke="#111" stroke-width="1.1"/>
<circle cx="261.80" cy="673.77" r="2.2" fill="#cf1040" stroke="#111" stroke-width="1.1"/>
<circle cx="271.50" cy="657.17" r="2.2" fill="#cf1040" stroke="#111" stroke-width="1.1"/>
<circle cx="282.00" cy="628.89" r="2.2" fill="#cf1040" stroke="#111" stroke-width="1.1"/>
<circle cx="291.70" cy="584.47" r="2.2" fill="#cf1040" stroke="#111" stroke-width="1.1"/>
<circle cx="302.20" cy="583.55" r="2.2" fill="#cf1040" stroke="#111" stroke-width="1.1"/>
<circle cx="311.90" cy="587.24" r="2.2" fill="#cf1040" stroke="#111" stroke-width="1.1"/>
<text x="353.30" y="566.00" font-size="8.2" text-anchor="middle" font-weight="normal" fill="#111" dominant-baseline="central" textLength="45.3" lengthAdjust="spacingAndGlyphs" stroke="#111" stroke-width="0.1" >[Inhibitor]µM</text>
<line x1="329.80" y1="584.90" x2="346.00" y2="584.90" stroke="#c0174a" stroke-width="1.5" />
<circle cx="338.20" cy="584.90" r="2.7" fill="#cf1040" stroke="#111" stroke-width="1.05"/>
<text x="349.50" y="585.20" font-size="8.2" text-anchor="start" font-weight="normal" fill="#111" dominant-baseline="central" stroke="#111" stroke-width="0.1" >Vehicle</text>
<line x1="329.80" y1="602.56" x2="346.00" y2="602.56" stroke="#78c050" stroke-width="1.5" />
<circle cx="338.20" cy="602.56" r="2.7" fill="#6cc04a" stroke="#111" stroke-width="1.05"/>
<text x="349.50" y="602.86" font-size="8.2" text-anchor="start" font-weight="normal" fill="#111" dominant-baseline="central" stroke="#111" stroke-width="0.1" >0.1</text>
<line x1="329.80" y1="620.22" x2="346.00" y2="620.22" stroke="#5a1f72" stroke-width="1.5" />
<circle cx="338.20" cy="620.22" r="2.7" fill="#6b2a82" stroke="#111" stroke-width="1.05"/>
<text x="349.50" y="620.52" font-size="8.2" text-anchor="start" font-weight="normal" fill="#111" dominant-baseline="central" stroke="#111" stroke-width="0.1" >0.3</text>
<line x1="329.80" y1="637.88" x2="346.00" y2="637.88" stroke="#f0a020" stroke-width="1.5" />
<circle cx="338.20" cy="637.88" r="2.7" fill="#f5a623" stroke="#111" stroke-width="1.05"/>
<text x="349.50" y="638.18" font-size="8.2" text-anchor="start" font-weight="normal" fill="#111" dominant-baseline="central" stroke="#111" stroke-width="0.1" >1</text>
<line x1="329.80" y1="655.54" x2="346.00" y2="655.54" stroke="#2f6b4b" stroke-width="1.5" />
<circle cx="338.20" cy="655.54" r="2.7" fill="#3b7a5a" stroke="#111" stroke-width="1.05"/>
<text x="349.50" y="655.84" font-size="8.2" text-anchor="start" font-weight="normal" fill="#111" dominant-baseline="central" stroke="#111" stroke-width="0.1" >3</text>
<line x1="329.80" y1="673.20" x2="346.00" y2="673.20" stroke="#9a90d8" stroke-width="1.5" />
<circle cx="338.20" cy="673.20" r="2.7" fill="#aaa2e2" stroke="#111" stroke-width="1.05"/>
<text x="349.50" y="673.50" font-size="8.2" text-anchor="start" font-weight="normal" fill="#111" dominant-baseline="central" stroke="#111" stroke-width="0.1" >10</text>
<rect x="0.5" y="0.5" width="518.8" height="747.8" fill="none" stroke="#000" stroke-width="1.3"/></svg>
</body></html>
